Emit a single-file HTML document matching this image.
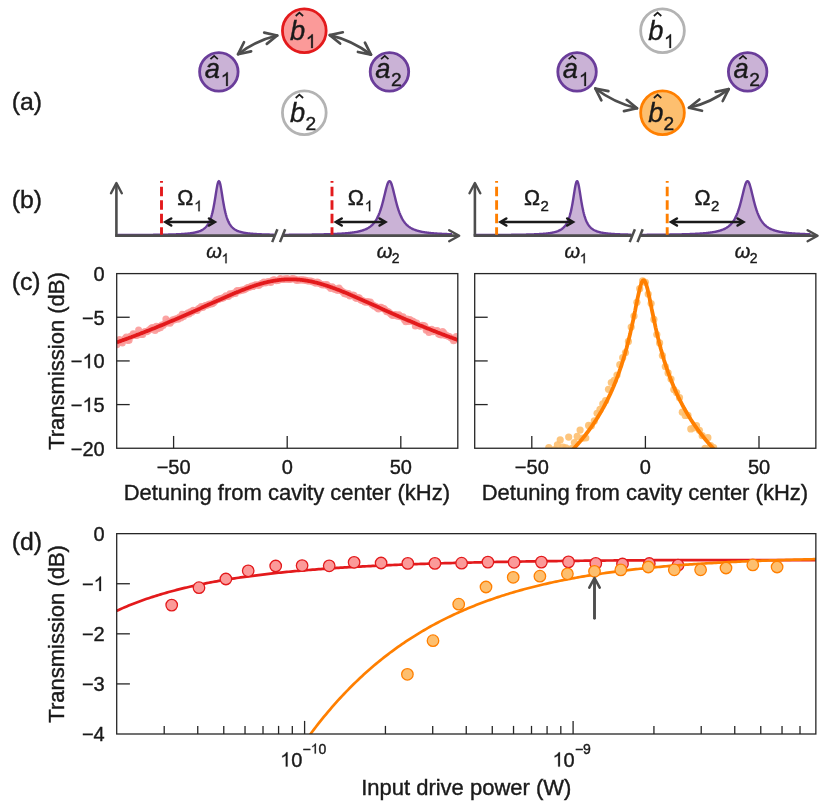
<!DOCTYPE html>
<html><head><meta charset="utf-8"><title>Figure</title>
<style>html,body{margin:0;padding:0;background:#fff;}body{width:831px;height:811px;overflow:hidden;font-family:"Liberation Sans",sans-serif;}svg{display:block;will-change:transform;}</style>
</head><body>
<svg width="831" height="811" viewBox="0 0 831 811" font-family="Liberation Sans, sans-serif">
<text x="11.70" y="110.40" font-size="24.8" fill="#1a1a1a" stroke="#1a1a1a" stroke-width="0.4">(a)</text>
<text x="11.70" y="208.40" font-size="24.8" fill="#1a1a1a" stroke="#1a1a1a" stroke-width="0.4">(b)</text>
<text x="11.70" y="290.40" font-size="24.8" fill="#1a1a1a" stroke="#1a1a1a" stroke-width="0.4">(c)</text>
<text x="11.70" y="550.40" font-size="24.8" fill="#1a1a1a" stroke="#1a1a1a" stroke-width="0.4">(d)</text>
<circle cx="304.3" cy="30.7" r="21.85" fill="#fb9a99" stroke="#e31a1c" stroke-width="2.8"/>
<text x="290.10" y="39.60" font-size="27.3" font-style="italic" fill="#1a1a1a" stroke="#1a1a1a" stroke-width="0.4">b</text>
<path d="M295.70,16.00 L299.40,12.70 L303.10,16.00" fill="none" stroke="#1a1a1a" stroke-width="1.7" stroke-linejoin="miter"/>
<path d="M312.85,48.00 L311.17,48.00 L311.17,37.25 Q310.56,37.83 309.57,38.41 Q308.58,38.99 307.79,39.28 L307.79,37.65 Q309.21,36.98 310.27,36.04 Q311.33,35.09 311.77,34.20 L312.85,34.20 Z" fill="#1a1a1a" stroke="#1a1a1a" stroke-width="0.24"/>
<circle cx="218.85" cy="71.85" r="19.25" fill="#cab2d6" stroke="#6a3d9a" stroke-width="2.8"/>
<text x="204.65" y="77.55" font-size="27.3" font-style="italic" fill="#1a1a1a" stroke="#1a1a1a" stroke-width="0.4">a</text>
<path d="M210.45,59.15 L214.15,55.85 L217.85,59.15" fill="none" stroke="#1a1a1a" stroke-width="1.7" stroke-linejoin="miter"/>
<path d="M227.80,85.95 L226.12,85.95 L226.12,75.20 Q225.51,75.78 224.52,76.36 Q223.53,76.94 222.74,77.23 L222.74,75.60 Q224.16,74.93 225.22,73.99 Q226.28,73.04 226.72,72.15 L227.80,72.15 Z" fill="#1a1a1a" stroke="#1a1a1a" stroke-width="0.24"/>
<circle cx="389.45" cy="71.85" r="19.25" fill="#cab2d6" stroke="#6a3d9a" stroke-width="2.8"/>
<text x="375.25" y="77.55" font-size="27.3" font-style="italic" fill="#1a1a1a" stroke="#1a1a1a" stroke-width="0.4">a</text>
<path d="M381.05,59.15 L384.75,55.85 L388.45,59.15" fill="none" stroke="#1a1a1a" stroke-width="1.7" stroke-linejoin="miter"/>
<text x="390.95" y="85.95" font-size="19.2" fill="#1a1a1a" stroke="#1a1a1a" stroke-width="0.4">2</text>
<circle cx="304.3" cy="112.7" r="21.85" fill="#fff" stroke="#b3b3b3" stroke-width="2.8"/>
<text x="290.10" y="121.60" font-size="27.3" font-style="italic" fill="#1a1a1a" stroke="#1a1a1a" stroke-width="0.4">b</text>
<path d="M295.70,98.00 L299.40,94.70 L303.10,98.00" fill="none" stroke="#1a1a1a" stroke-width="1.7" stroke-linejoin="miter"/>
<text x="305.40" y="130.00" font-size="19.2" fill="#1a1a1a" stroke="#1a1a1a" stroke-width="0.4">2</text>
<circle cx="662.5" cy="30.7" r="21.85" fill="#fff" stroke="#b3b3b3" stroke-width="2.8"/>
<text x="648.30" y="39.60" font-size="27.3" font-style="italic" fill="#1a1a1a" stroke="#1a1a1a" stroke-width="0.4">b</text>
<path d="M653.90,16.00 L657.60,12.70 L661.30,16.00" fill="none" stroke="#1a1a1a" stroke-width="1.7" stroke-linejoin="miter"/>
<path d="M671.05,48.00 L669.37,48.00 L669.37,37.25 Q668.76,37.83 667.77,38.41 Q666.78,38.99 665.99,39.28 L665.99,37.65 Q667.41,36.98 668.47,36.04 Q669.53,35.09 669.97,34.20 L671.05,34.20 Z" fill="#1a1a1a" stroke="#1a1a1a" stroke-width="0.24"/>
<circle cx="577.05" cy="71.85" r="19.25" fill="#cab2d6" stroke="#6a3d9a" stroke-width="2.8"/>
<text x="562.85" y="77.55" font-size="27.3" font-style="italic" fill="#1a1a1a" stroke="#1a1a1a" stroke-width="0.4">a</text>
<path d="M568.65,59.15 L572.35,55.85 L576.05,59.15" fill="none" stroke="#1a1a1a" stroke-width="1.7" stroke-linejoin="miter"/>
<path d="M586.00,85.95 L584.32,85.95 L584.32,75.20 Q583.71,75.78 582.72,76.36 Q581.73,76.94 580.94,77.23 L580.94,75.60 Q582.36,74.93 583.42,73.99 Q584.48,73.04 584.92,72.15 L586.00,72.15 Z" fill="#1a1a1a" stroke="#1a1a1a" stroke-width="0.24"/>
<circle cx="747.65" cy="71.85" r="19.25" fill="#cab2d6" stroke="#6a3d9a" stroke-width="2.8"/>
<text x="733.45" y="77.55" font-size="27.3" font-style="italic" fill="#1a1a1a" stroke="#1a1a1a" stroke-width="0.4">a</text>
<path d="M739.25,59.15 L742.95,55.85 L746.65,59.15" fill="none" stroke="#1a1a1a" stroke-width="1.7" stroke-linejoin="miter"/>
<text x="749.15" y="85.95" font-size="19.2" fill="#1a1a1a" stroke="#1a1a1a" stroke-width="0.4">2</text>
<circle cx="662.5" cy="112.7" r="21.85" fill="#fdbf6f" stroke="#ff7f00" stroke-width="2.8"/>
<text x="648.30" y="121.60" font-size="27.3" font-style="italic" fill="#1a1a1a" stroke="#1a1a1a" stroke-width="0.4">b</text>
<path d="M653.90,98.00 L657.60,94.70 L661.30,98.00" fill="none" stroke="#1a1a1a" stroke-width="1.7" stroke-linejoin="miter"/>
<text x="663.60" y="130.00" font-size="19.2" fill="#1a1a1a" stroke="#1a1a1a" stroke-width="0.4">2</text>
<path d="M238.10,54.20 Q255.58,40.52 277.20,35.50" fill="none" stroke="#4d4d4d" stroke-width="2.7" stroke-linecap="round"/>
<path d="M251.12,51.37 L238.10,54.20 L243.98,42.24" fill="none" stroke="#4d4d4d" stroke-width="2.7" stroke-linecap="round" stroke-linejoin="round"/>
<path d="M264.20,32.56 L277.20,35.50 L266.82,43.86" fill="none" stroke="#4d4d4d" stroke-width="2.7" stroke-linecap="round" stroke-linejoin="round"/>
<path d="M329.80,35.10 Q352.45,40.51 371.00,54.60" fill="none" stroke="#4d4d4d" stroke-width="2.7" stroke-linecap="round"/>
<path d="M340.12,43.53 L329.80,35.10 L342.82,32.25" fill="none" stroke="#4d4d4d" stroke-width="2.7" stroke-linecap="round" stroke-linejoin="round"/>
<path d="M364.95,42.72 L371.00,54.60 L357.94,51.96" fill="none" stroke="#4d4d4d" stroke-width="2.7" stroke-linecap="round" stroke-linejoin="round"/>
<path d="M595.30,88.50 Q614.09,102.74 637.00,108.30" fill="none" stroke="#4d4d4d" stroke-width="2.7" stroke-linecap="round"/>
<path d="M601.36,100.37 L595.30,88.50 L608.37,91.12" fill="none" stroke="#4d4d4d" stroke-width="2.7" stroke-linecap="round" stroke-linejoin="round"/>
<path d="M626.71,99.83 L637.00,108.30 L623.97,111.10" fill="none" stroke="#4d4d4d" stroke-width="2.7" stroke-linecap="round" stroke-linejoin="round"/>
<path d="M689.00,107.80 Q710.90,102.79 728.70,89.10" fill="none" stroke="#4d4d4d" stroke-width="2.7" stroke-linecap="round"/>
<path d="M701.99,110.78 L689.00,107.80 L699.40,99.47" fill="none" stroke="#4d4d4d" stroke-width="2.7" stroke-linecap="round" stroke-linejoin="round"/>
<path d="M715.65,91.82 L728.70,89.10 L722.72,101.01" fill="none" stroke="#4d4d4d" stroke-width="2.7" stroke-linecap="round" stroke-linejoin="round"/>
<path d="M117.4,235.04 L117.9,235.04 L118.4,235.04 L118.9,235.04 L119.4,235.04 L119.9,235.03 L120.4,235.03 L120.9,235.03 L121.4,235.03 L121.9,235.03 L122.4,235.02 L122.9,235.02 L123.4,235.02 L123.9,235.02 L124.4,235.02 L124.9,235.02 L125.4,235.01 L125.9,235.01 L126.4,235.01 L126.9,235.01 L127.4,235.01 L127.9,235.00 L128.4,235.00 L128.9,235.00 L129.4,235.00 L129.9,234.99 L130.4,234.99 L130.9,234.99 L131.4,234.99 L131.9,234.98 L132.4,234.98 L132.9,234.98 L133.4,234.98 L133.9,234.97 L134.4,234.97 L134.9,234.97 L135.4,234.97 L135.9,234.96 L136.4,234.96 L136.9,234.96 L137.4,234.95 L137.9,234.95 L138.4,234.95 L138.9,234.95 L139.4,234.94 L139.9,234.94 L140.4,234.94 L140.9,234.93 L141.4,234.93 L141.9,234.93 L142.4,234.92 L142.9,234.92 L143.4,234.91 L143.9,234.91 L144.4,234.91 L144.9,234.90 L145.4,234.90 L145.9,234.89 L146.4,234.89 L146.9,234.89 L147.4,234.88 L147.9,234.88 L148.4,234.87 L148.9,234.87 L149.4,234.86 L149.9,234.86 L150.4,234.85 L150.9,234.85 L151.4,234.84 L151.9,234.84 L152.4,234.83 L152.9,234.83 L153.4,234.82 L153.9,234.82 L154.4,234.81 L154.9,234.80 L155.4,234.80 L155.9,234.79 L156.4,234.78 L156.9,234.78 L157.4,234.77 L157.9,234.76 L158.4,234.76 L158.9,234.75 L159.4,234.74 L159.9,234.73 L160.4,234.73 L160.9,234.72 L161.4,234.71 L161.9,234.70 L162.4,234.69 L162.9,234.68 L163.4,234.67 L163.9,234.66 L164.4,234.65 L164.9,234.64 L165.4,234.63 L165.9,234.62 L166.4,234.61 L166.9,234.60 L167.4,234.59 L167.9,234.58 L168.4,234.57 L168.9,234.55 L169.4,234.54 L169.9,234.53 L170.4,234.51 L170.9,234.50 L171.4,234.48 L171.9,234.47 L172.4,234.45 L172.9,234.44 L173.4,234.42 L173.9,234.40 L174.4,234.39 L174.9,234.37 L175.4,234.35 L175.9,234.33 L176.4,234.31 L176.9,234.29 L177.4,234.27 L177.9,234.24 L178.4,234.22 L178.9,234.20 L179.4,234.17 L179.9,234.15 L180.4,234.12 L180.9,234.09 L181.4,234.06 L181.9,234.03 L182.4,234.00 L182.9,233.97 L183.4,233.93 L183.9,233.90 L184.4,233.86 L184.9,233.82 L185.4,233.78 L185.9,233.74 L186.4,233.69 L186.9,233.65 L187.4,233.60 L187.9,233.55 L188.4,233.50 L188.9,233.44 L189.4,233.38 L189.9,233.32 L190.4,233.26 L190.9,233.19 L191.4,233.12 L191.9,233.04 L192.4,232.97 L192.9,232.88 L193.4,232.80 L193.9,232.70 L194.4,232.60 L194.9,232.50 L195.4,232.39 L195.9,232.27 L196.4,232.15 L196.9,232.02 L197.4,231.88 L197.9,231.73 L198.4,231.57 L198.9,231.40 L199.4,231.21 L199.9,231.02 L200.4,230.81 L200.9,230.58 L201.4,230.34 L201.9,230.07 L202.4,229.79 L202.9,229.48 L203.4,229.15 L203.9,228.79 L204.4,228.40 L204.9,227.97 L205.4,227.50 L205.9,226.99 L206.4,226.43 L206.9,225.81 L207.4,225.13 L207.9,224.38 L208.4,223.55 L208.9,222.64 L209.4,221.62 L209.9,220.49 L210.4,219.23 L210.9,217.84 L211.4,216.28 L211.9,214.55 L212.4,212.63 L212.9,210.50 L213.4,208.15 L213.9,205.58 L214.4,202.79 L214.9,199.82 L215.4,196.69 L215.9,193.51 L216.4,190.36 L216.9,187.42 L217.4,184.85 L217.9,182.83 L218.4,181.54 L218.9,181.10 L219.4,181.54 L219.9,182.83 L220.4,184.85 L220.9,187.42 L221.4,190.36 L221.9,193.51 L222.4,196.69 L222.9,199.82 L223.4,202.79 L223.9,205.58 L224.4,208.15 L224.9,210.50 L225.4,212.63 L225.9,214.55 L226.4,216.28 L226.9,217.84 L227.4,219.23 L227.9,220.49 L228.4,221.62 L228.9,222.64 L229.4,223.55 L229.9,224.38 L230.4,225.13 L230.9,225.81 L231.4,226.43 L231.9,226.99 L232.4,227.50 L232.9,227.97 L233.4,228.40 L233.9,228.79 L234.4,229.15 L234.9,229.48 L235.4,229.79 L235.9,230.07 L236.4,230.34 L236.9,230.58 L237.4,230.81 L237.9,231.02 L238.4,231.21 L238.9,231.40 L239.4,231.57 L239.9,231.73 L240.4,231.88 L240.9,232.02 L241.4,232.15 L241.9,232.27 L242.4,232.39 L242.9,232.50 L243.4,232.60 L243.9,232.70 L244.4,232.80 L244.9,232.88 L245.4,232.97 L245.9,233.04 L246.4,233.12 L246.9,233.19 L247.4,233.26 L247.9,233.32 L248.4,233.38 L248.9,233.44 L249.4,233.50 L249.9,233.55 L250.4,233.60 L250.9,233.65 L251.4,233.69 L251.9,233.74 L252.4,233.78 L252.9,233.82 L253.4,233.86 L253.9,233.90 L254.4,233.93 L254.9,233.97 L255.4,234.00 L255.9,234.03 L256.4,234.06 L256.9,234.09 L257.4,234.12 L257.9,234.15 L258.4,234.17 L258.9,234.20 L259.4,234.22 L259.9,234.24 L260.4,234.27 L260.9,234.29 L261.4,234.31 L261.9,234.33 L262.4,234.35 L262.9,234.37 L263.4,234.39 L263.9,234.40 L264.4,234.42 L264.9,234.44 L265.4,234.45 L265.9,234.47 L266.4,234.48 L266.9,234.50 L267.4,234.51 L267.9,234.53 L268.4,234.54 L268.9,234.55 L269.4,234.57 L269.9,234.58 L270.4,234.59 L270.9,234.60 L271.4,234.61 L271.9,234.62 L272.4,234.63 L272.9,234.64 L273.4,234.65 L273.9,234.66 L273.9,235.7 L117.4,235.7 Z" fill="#cab2d6" stroke="none"/>
<path d="M283.5,234.86 L284.0,234.86 L284.5,234.86 L285.0,234.85 L285.5,234.85 L286.0,234.85 L286.5,234.84 L287.0,234.84 L287.5,234.84 L288.0,234.83 L288.5,234.83 L289.0,234.82 L289.5,234.82 L290.0,234.82 L290.5,234.81 L291.0,234.81 L291.5,234.81 L292.0,234.80 L292.5,234.80 L293.0,234.79 L293.5,234.79 L294.0,234.78 L294.5,234.78 L295.0,234.78 L295.5,234.77 L296.0,234.77 L296.5,234.76 L297.0,234.76 L297.5,234.75 L298.0,234.75 L298.5,234.74 L299.0,234.74 L299.5,234.73 L300.0,234.73 L300.5,234.72 L301.0,234.72 L301.5,234.71 L302.0,234.71 L302.5,234.70 L303.0,234.69 L303.5,234.69 L304.0,234.68 L304.5,234.68 L305.0,234.67 L305.5,234.66 L306.0,234.66 L306.5,234.65 L307.0,234.64 L307.5,234.64 L308.0,234.63 L308.5,234.62 L309.0,234.62 L309.5,234.61 L310.0,234.60 L310.5,234.60 L311.0,234.59 L311.5,234.58 L312.0,234.57 L312.5,234.56 L313.0,234.56 L313.5,234.55 L314.0,234.54 L314.5,234.53 L315.0,234.52 L315.5,234.51 L316.0,234.50 L316.5,234.49 L317.0,234.48 L317.5,234.47 L318.0,234.46 L318.5,234.45 L319.0,234.44 L319.5,234.43 L320.0,234.42 L320.5,234.41 L321.0,234.40 L321.5,234.39 L322.0,234.37 L322.5,234.36 L323.0,234.35 L323.5,234.34 L324.0,234.32 L324.5,234.31 L325.0,234.30 L325.5,234.28 L326.0,234.27 L326.5,234.26 L327.0,234.24 L327.5,234.22 L328.0,234.21 L328.5,234.19 L329.0,234.18 L329.5,234.16 L330.0,234.14 L330.5,234.13 L331.0,234.11 L331.5,234.09 L332.0,234.07 L332.5,234.05 L333.0,234.03 L333.5,234.01 L334.0,233.99 L334.5,233.97 L335.0,233.94 L335.5,233.92 L336.0,233.90 L336.5,233.87 L337.0,233.85 L337.5,233.82 L338.0,233.80 L338.5,233.77 L339.0,233.74 L339.5,233.71 L340.0,233.69 L340.5,233.66 L341.0,233.62 L341.5,233.59 L342.0,233.56 L342.5,233.53 L343.0,233.49 L343.5,233.45 L344.0,233.42 L344.5,233.38 L345.0,233.34 L345.5,233.30 L346.0,233.26 L346.5,233.21 L347.0,233.17 L347.5,233.12 L348.0,233.07 L348.5,233.02 L349.0,232.97 L349.5,232.91 L350.0,232.86 L350.5,232.80 L351.0,232.74 L351.5,232.68 L352.0,232.62 L352.5,232.55 L353.0,232.48 L353.5,232.41 L354.0,232.33 L354.5,232.25 L355.0,232.17 L355.5,232.09 L356.0,232.00 L356.5,231.91 L357.0,231.81 L357.5,231.71 L358.0,231.61 L358.5,231.50 L359.0,231.39 L359.5,231.27 L360.0,231.14 L360.5,231.01 L361.0,230.88 L361.5,230.73 L362.0,230.58 L362.5,230.43 L363.0,230.26 L363.5,230.09 L364.0,229.90 L364.5,229.71 L365.0,229.51 L365.5,229.30 L366.0,229.07 L366.5,228.83 L367.0,228.58 L367.5,228.32 L368.0,228.04 L368.5,227.74 L369.0,227.42 L369.5,227.09 L370.0,226.73 L370.5,226.35 L371.0,225.95 L371.5,225.53 L372.0,225.07 L372.5,224.58 L373.0,224.06 L373.5,223.51 L374.0,222.92 L374.5,222.28 L375.0,221.61 L375.5,220.88 L376.0,220.10 L376.5,219.27 L377.0,218.37 L377.5,217.41 L378.0,216.38 L378.5,215.27 L379.0,214.09 L379.5,212.82 L380.0,211.46 L380.5,210.01 L381.0,208.47 L381.5,206.83 L382.0,205.10 L382.5,203.27 L383.0,201.36 L383.5,199.38 L384.0,197.33 L384.5,195.25 L385.0,193.16 L385.5,191.10 L386.0,189.10 L386.5,187.22 L387.0,185.50 L387.5,184.00 L388.0,182.77 L388.5,181.86 L389.0,181.29 L389.5,181.10 L390.0,181.29 L390.5,181.86 L391.0,182.77 L391.5,184.00 L392.0,185.50 L392.5,187.22 L393.0,189.10 L393.5,191.10 L394.0,193.16 L394.5,195.25 L395.0,197.33 L395.5,199.38 L396.0,201.36 L396.5,203.27 L397.0,205.10 L397.5,206.83 L398.0,208.47 L398.5,210.01 L399.0,211.46 L399.5,212.82 L400.0,214.09 L400.5,215.27 L401.0,216.38 L401.5,217.41 L402.0,218.37 L402.5,219.27 L403.0,220.10 L403.5,220.88 L404.0,221.61 L404.5,222.28 L405.0,222.92 L405.5,223.51 L406.0,224.06 L406.5,224.58 L407.0,225.07 L407.5,225.53 L408.0,225.95 L408.5,226.35 L409.0,226.73 L409.5,227.09 L410.0,227.42 L410.5,227.74 L411.0,228.04 L411.5,228.32 L412.0,228.58 L412.5,228.83 L413.0,229.07 L413.5,229.30 L414.0,229.51 L414.5,229.71 L415.0,229.90 L415.5,230.09 L416.0,230.26 L416.5,230.43 L417.0,230.58 L417.5,230.73 L418.0,230.88 L418.5,231.01 L419.0,231.14 L419.5,231.27 L420.0,231.39 L420.5,231.50 L421.0,231.61 L421.5,231.71 L422.0,231.81 L422.5,231.91 L423.0,232.00 L423.5,232.09 L424.0,232.17 L424.5,232.25 L425.0,232.33 L425.5,232.41 L426.0,232.48 L426.5,232.55 L427.0,232.62 L427.5,232.68 L428.0,232.74 L428.5,232.80 L429.0,232.86 L429.5,232.91 L430.0,232.97 L430.5,233.02 L431.0,233.07 L431.5,233.12 L432.0,233.17 L432.5,233.21 L433.0,233.26 L433.5,233.30 L434.0,233.34 L434.5,233.38 L435.0,233.42 L435.5,233.45 L436.0,233.49 L436.5,233.53 L437.0,233.56 L437.5,233.59 L438.0,233.62 L438.5,233.66 L439.0,233.69 L439.5,233.71 L440.0,233.74 L440.5,233.77 L441.0,233.80 L441.5,233.82 L442.0,233.85 L442.5,233.87 L443.0,233.90 L443.5,233.92 L444.0,233.94 L444.5,233.97 L445.0,233.99 L445.5,234.01 L446.0,234.03 L446.5,234.05 L447.0,234.07 L447.5,234.09 L448.0,234.11 L448.5,234.13 L449.0,234.14 L449.5,234.16 L450.0,234.18 L450.5,234.19 L451.0,234.21 L451.5,234.22 L452.0,234.24 L452.0,235.7 L283.5,235.7 Z" fill="#cab2d6" stroke="none"/>
<path d="M117.4,235.04 L117.9,235.04 L118.4,235.04 L118.9,235.04 L119.4,235.04 L119.9,235.03 L120.4,235.03 L120.9,235.03 L121.4,235.03 L121.9,235.03 L122.4,235.02 L122.9,235.02 L123.4,235.02 L123.9,235.02 L124.4,235.02 L124.9,235.02 L125.4,235.01 L125.9,235.01 L126.4,235.01 L126.9,235.01 L127.4,235.01 L127.9,235.00 L128.4,235.00 L128.9,235.00 L129.4,235.00 L129.9,234.99 L130.4,234.99 L130.9,234.99 L131.4,234.99 L131.9,234.98 L132.4,234.98 L132.9,234.98 L133.4,234.98 L133.9,234.97 L134.4,234.97 L134.9,234.97 L135.4,234.97 L135.9,234.96 L136.4,234.96 L136.9,234.96 L137.4,234.95 L137.9,234.95 L138.4,234.95 L138.9,234.95 L139.4,234.94 L139.9,234.94 L140.4,234.94 L140.9,234.93 L141.4,234.93 L141.9,234.93 L142.4,234.92 L142.9,234.92 L143.4,234.91 L143.9,234.91 L144.4,234.91 L144.9,234.90 L145.4,234.90 L145.9,234.89 L146.4,234.89 L146.9,234.89 L147.4,234.88 L147.9,234.88 L148.4,234.87 L148.9,234.87 L149.4,234.86 L149.9,234.86 L150.4,234.85 L150.9,234.85 L151.4,234.84 L151.9,234.84 L152.4,234.83 L152.9,234.83 L153.4,234.82 L153.9,234.82 L154.4,234.81 L154.9,234.80 L155.4,234.80 L155.9,234.79 L156.4,234.78 L156.9,234.78 L157.4,234.77 L157.9,234.76 L158.4,234.76 L158.9,234.75 L159.4,234.74 L159.9,234.73 L160.4,234.73 L160.9,234.72 L161.4,234.71 L161.9,234.70 L162.4,234.69 L162.9,234.68 L163.4,234.67 L163.9,234.66 L164.4,234.65 L164.9,234.64 L165.4,234.63 L165.9,234.62 L166.4,234.61 L166.9,234.60 L167.4,234.59 L167.9,234.58 L168.4,234.57 L168.9,234.55 L169.4,234.54 L169.9,234.53 L170.4,234.51 L170.9,234.50 L171.4,234.48 L171.9,234.47 L172.4,234.45 L172.9,234.44 L173.4,234.42 L173.9,234.40 L174.4,234.39 L174.9,234.37 L175.4,234.35 L175.9,234.33 L176.4,234.31 L176.9,234.29 L177.4,234.27 L177.9,234.24 L178.4,234.22 L178.9,234.20 L179.4,234.17 L179.9,234.15 L180.4,234.12 L180.9,234.09 L181.4,234.06 L181.9,234.03 L182.4,234.00 L182.9,233.97 L183.4,233.93 L183.9,233.90 L184.4,233.86 L184.9,233.82 L185.4,233.78 L185.9,233.74 L186.4,233.69 L186.9,233.65 L187.4,233.60 L187.9,233.55 L188.4,233.50 L188.9,233.44 L189.4,233.38 L189.9,233.32 L190.4,233.26 L190.9,233.19 L191.4,233.12 L191.9,233.04 L192.4,232.97 L192.9,232.88 L193.4,232.80 L193.9,232.70 L194.4,232.60 L194.9,232.50 L195.4,232.39 L195.9,232.27 L196.4,232.15 L196.9,232.02 L197.4,231.88 L197.9,231.73 L198.4,231.57 L198.9,231.40 L199.4,231.21 L199.9,231.02 L200.4,230.81 L200.9,230.58 L201.4,230.34 L201.9,230.07 L202.4,229.79 L202.9,229.48 L203.4,229.15 L203.9,228.79 L204.4,228.40 L204.9,227.97 L205.4,227.50 L205.9,226.99 L206.4,226.43 L206.9,225.81 L207.4,225.13 L207.9,224.38 L208.4,223.55 L208.9,222.64 L209.4,221.62 L209.9,220.49 L210.4,219.23 L210.9,217.84 L211.4,216.28 L211.9,214.55 L212.4,212.63 L212.9,210.50 L213.4,208.15 L213.9,205.58 L214.4,202.79 L214.9,199.82 L215.4,196.69 L215.9,193.51 L216.4,190.36 L216.9,187.42 L217.4,184.85 L217.9,182.83 L218.4,181.54 L218.9,181.10 L219.4,181.54 L219.9,182.83 L220.4,184.85 L220.9,187.42 L221.4,190.36 L221.9,193.51 L222.4,196.69 L222.9,199.82 L223.4,202.79 L223.9,205.58 L224.4,208.15 L224.9,210.50 L225.4,212.63 L225.9,214.55 L226.4,216.28 L226.9,217.84 L227.4,219.23 L227.9,220.49 L228.4,221.62 L228.9,222.64 L229.4,223.55 L229.9,224.38 L230.4,225.13 L230.9,225.81 L231.4,226.43 L231.9,226.99 L232.4,227.50 L232.9,227.97 L233.4,228.40 L233.9,228.79 L234.4,229.15 L234.9,229.48 L235.4,229.79 L235.9,230.07 L236.4,230.34 L236.9,230.58 L237.4,230.81 L237.9,231.02 L238.4,231.21 L238.9,231.40 L239.4,231.57 L239.9,231.73 L240.4,231.88 L240.9,232.02 L241.4,232.15 L241.9,232.27 L242.4,232.39 L242.9,232.50 L243.4,232.60 L243.9,232.70 L244.4,232.80 L244.9,232.88 L245.4,232.97 L245.9,233.04 L246.4,233.12 L246.9,233.19 L247.4,233.26 L247.9,233.32 L248.4,233.38 L248.9,233.44 L249.4,233.50 L249.9,233.55 L250.4,233.60 L250.9,233.65 L251.4,233.69 L251.9,233.74 L252.4,233.78 L252.9,233.82 L253.4,233.86 L253.9,233.90 L254.4,233.93 L254.9,233.97 L255.4,234.00 L255.9,234.03 L256.4,234.06 L256.9,234.09 L257.4,234.12 L257.9,234.15 L258.4,234.17 L258.9,234.20 L259.4,234.22 L259.9,234.24 L260.4,234.27 L260.9,234.29 L261.4,234.31 L261.9,234.33 L262.4,234.35 L262.9,234.37 L263.4,234.39 L263.9,234.40 L264.4,234.42 L264.9,234.44 L265.4,234.45 L265.9,234.47 L266.4,234.48 L266.9,234.50 L267.4,234.51 L267.9,234.53 L268.4,234.54 L268.9,234.55 L269.4,234.57 L269.9,234.58 L270.4,234.59 L270.9,234.60 L271.4,234.61 L271.9,234.62 L272.4,234.63 L272.9,234.64 L273.4,234.65 L273.9,234.66" fill="none" stroke="#6a3d9a" stroke-width="2.4" stroke-linejoin="round"/>
<path d="M283.5,234.86 L284.0,234.86 L284.5,234.86 L285.0,234.85 L285.5,234.85 L286.0,234.85 L286.5,234.84 L287.0,234.84 L287.5,234.84 L288.0,234.83 L288.5,234.83 L289.0,234.82 L289.5,234.82 L290.0,234.82 L290.5,234.81 L291.0,234.81 L291.5,234.81 L292.0,234.80 L292.5,234.80 L293.0,234.79 L293.5,234.79 L294.0,234.78 L294.5,234.78 L295.0,234.78 L295.5,234.77 L296.0,234.77 L296.5,234.76 L297.0,234.76 L297.5,234.75 L298.0,234.75 L298.5,234.74 L299.0,234.74 L299.5,234.73 L300.0,234.73 L300.5,234.72 L301.0,234.72 L301.5,234.71 L302.0,234.71 L302.5,234.70 L303.0,234.69 L303.5,234.69 L304.0,234.68 L304.5,234.68 L305.0,234.67 L305.5,234.66 L306.0,234.66 L306.5,234.65 L307.0,234.64 L307.5,234.64 L308.0,234.63 L308.5,234.62 L309.0,234.62 L309.5,234.61 L310.0,234.60 L310.5,234.60 L311.0,234.59 L311.5,234.58 L312.0,234.57 L312.5,234.56 L313.0,234.56 L313.5,234.55 L314.0,234.54 L314.5,234.53 L315.0,234.52 L315.5,234.51 L316.0,234.50 L316.5,234.49 L317.0,234.48 L317.5,234.47 L318.0,234.46 L318.5,234.45 L319.0,234.44 L319.5,234.43 L320.0,234.42 L320.5,234.41 L321.0,234.40 L321.5,234.39 L322.0,234.37 L322.5,234.36 L323.0,234.35 L323.5,234.34 L324.0,234.32 L324.5,234.31 L325.0,234.30 L325.5,234.28 L326.0,234.27 L326.5,234.26 L327.0,234.24 L327.5,234.22 L328.0,234.21 L328.5,234.19 L329.0,234.18 L329.5,234.16 L330.0,234.14 L330.5,234.13 L331.0,234.11 L331.5,234.09 L332.0,234.07 L332.5,234.05 L333.0,234.03 L333.5,234.01 L334.0,233.99 L334.5,233.97 L335.0,233.94 L335.5,233.92 L336.0,233.90 L336.5,233.87 L337.0,233.85 L337.5,233.82 L338.0,233.80 L338.5,233.77 L339.0,233.74 L339.5,233.71 L340.0,233.69 L340.5,233.66 L341.0,233.62 L341.5,233.59 L342.0,233.56 L342.5,233.53 L343.0,233.49 L343.5,233.45 L344.0,233.42 L344.5,233.38 L345.0,233.34 L345.5,233.30 L346.0,233.26 L346.5,233.21 L347.0,233.17 L347.5,233.12 L348.0,233.07 L348.5,233.02 L349.0,232.97 L349.5,232.91 L350.0,232.86 L350.5,232.80 L351.0,232.74 L351.5,232.68 L352.0,232.62 L352.5,232.55 L353.0,232.48 L353.5,232.41 L354.0,232.33 L354.5,232.25 L355.0,232.17 L355.5,232.09 L356.0,232.00 L356.5,231.91 L357.0,231.81 L357.5,231.71 L358.0,231.61 L358.5,231.50 L359.0,231.39 L359.5,231.27 L360.0,231.14 L360.5,231.01 L361.0,230.88 L361.5,230.73 L362.0,230.58 L362.5,230.43 L363.0,230.26 L363.5,230.09 L364.0,229.90 L364.5,229.71 L365.0,229.51 L365.5,229.30 L366.0,229.07 L366.5,228.83 L367.0,228.58 L367.5,228.32 L368.0,228.04 L368.5,227.74 L369.0,227.42 L369.5,227.09 L370.0,226.73 L370.5,226.35 L371.0,225.95 L371.5,225.53 L372.0,225.07 L372.5,224.58 L373.0,224.06 L373.5,223.51 L374.0,222.92 L374.5,222.28 L375.0,221.61 L375.5,220.88 L376.0,220.10 L376.5,219.27 L377.0,218.37 L377.5,217.41 L378.0,216.38 L378.5,215.27 L379.0,214.09 L379.5,212.82 L380.0,211.46 L380.5,210.01 L381.0,208.47 L381.5,206.83 L382.0,205.10 L382.5,203.27 L383.0,201.36 L383.5,199.38 L384.0,197.33 L384.5,195.25 L385.0,193.16 L385.5,191.10 L386.0,189.10 L386.5,187.22 L387.0,185.50 L387.5,184.00 L388.0,182.77 L388.5,181.86 L389.0,181.29 L389.5,181.10 L390.0,181.29 L390.5,181.86 L391.0,182.77 L391.5,184.00 L392.0,185.50 L392.5,187.22 L393.0,189.10 L393.5,191.10 L394.0,193.16 L394.5,195.25 L395.0,197.33 L395.5,199.38 L396.0,201.36 L396.5,203.27 L397.0,205.10 L397.5,206.83 L398.0,208.47 L398.5,210.01 L399.0,211.46 L399.5,212.82 L400.0,214.09 L400.5,215.27 L401.0,216.38 L401.5,217.41 L402.0,218.37 L402.5,219.27 L403.0,220.10 L403.5,220.88 L404.0,221.61 L404.5,222.28 L405.0,222.92 L405.5,223.51 L406.0,224.06 L406.5,224.58 L407.0,225.07 L407.5,225.53 L408.0,225.95 L408.5,226.35 L409.0,226.73 L409.5,227.09 L410.0,227.42 L410.5,227.74 L411.0,228.04 L411.5,228.32 L412.0,228.58 L412.5,228.83 L413.0,229.07 L413.5,229.30 L414.0,229.51 L414.5,229.71 L415.0,229.90 L415.5,230.09 L416.0,230.26 L416.5,230.43 L417.0,230.58 L417.5,230.73 L418.0,230.88 L418.5,231.01 L419.0,231.14 L419.5,231.27 L420.0,231.39 L420.5,231.50 L421.0,231.61 L421.5,231.71 L422.0,231.81 L422.5,231.91 L423.0,232.00 L423.5,232.09 L424.0,232.17 L424.5,232.25 L425.0,232.33 L425.5,232.41 L426.0,232.48 L426.5,232.55 L427.0,232.62 L427.5,232.68 L428.0,232.74 L428.5,232.80 L429.0,232.86 L429.5,232.91 L430.0,232.97 L430.5,233.02 L431.0,233.07 L431.5,233.12 L432.0,233.17 L432.5,233.21 L433.0,233.26 L433.5,233.30 L434.0,233.34 L434.5,233.38 L435.0,233.42 L435.5,233.45 L436.0,233.49 L436.5,233.53 L437.0,233.56 L437.5,233.59 L438.0,233.62 L438.5,233.66 L439.0,233.69 L439.5,233.71 L440.0,233.74 L440.5,233.77 L441.0,233.80 L441.5,233.82 L442.0,233.85 L442.5,233.87 L443.0,233.90 L443.5,233.92 L444.0,233.94 L444.5,233.97 L445.0,233.99 L445.5,234.01 L446.0,234.03 L446.5,234.05 L447.0,234.07 L447.5,234.09 L448.0,234.11 L448.5,234.13 L449.0,234.14 L449.5,234.16 L450.0,234.18 L450.5,234.19 L451.0,234.21 L451.5,234.22 L452.0,234.24" fill="none" stroke="#6a3d9a" stroke-width="2.4" stroke-linejoin="round"/>
<path d="M115.10000000000001,235.7 L275.0,235.7 M282.9,235.7 L457.7,235.7" stroke="#4d4d4d" stroke-width="2.7" fill="none"/>
<path d="M116.4,235.7 L116.4,183.8" stroke="#4d4d4d" stroke-width="2.6" fill="none"/>
<path d="M111.0,193.2 L116.4,183 L121.80000000000001,193.2" stroke="#4d4d4d" stroke-width="2.4" fill="none" stroke-linecap="round" stroke-linejoin="round"/>
<path d="M449.2,230.2 L459.2,235.7 L449.2,241.2" stroke="#4d4d4d" stroke-width="2.4" fill="none" stroke-linecap="round" stroke-linejoin="round"/>
<path d="M272.20,242.1 L277.40,229.2" stroke="#4d4d4d" stroke-width="2.5" fill="none"/>
<path d="M280.00,242.1 L285.20,229.2" stroke="#4d4d4d" stroke-width="2.5" fill="none"/>
<path d="M161.5,181.1 L161.5,234.79999999999998" stroke="#e31a1c" stroke-width="2.9" stroke-dasharray="9.5 4" stroke-dashoffset="7.8" fill="none"/>
<path d="M166.4,222.0 L213.8,222.0" stroke="#1a1a1a" stroke-width="2.4" fill="none"/>
<path d="M171.20000000000002,218.5 L165.4,222.0 L171.20000000000002,225.5" stroke="#1a1a1a" stroke-width="2.6" fill="none" stroke-linecap="round" stroke-linejoin="miter"/>
<path d="M209.0,218.5 L214.8,222.0 L209.0,225.5" stroke="#1a1a1a" stroke-width="2.6" fill="none" stroke-linecap="round" stroke-linejoin="miter"/>
<text x="177.30" y="204.55" font-size="21.5" fill="#1a1a1a" stroke="#1a1a1a" stroke-width="0.4">&#937;</text>
<path d="M199.69,211.25 L198.37,211.25 L198.37,202.85 Q197.89,203.30 197.12,203.76 Q196.35,204.21 195.73,204.44 L195.73,203.16 Q196.84,202.64 197.67,201.91 Q198.50,201.16 198.84,200.47 L199.69,200.47 Z" fill="#1a1a1a" stroke="#1a1a1a" stroke-width="0.24"/>
<text x="206.25" y="257.50" font-size="20" font-style="italic" fill="#1a1a1a" stroke="#1a1a1a" stroke-width="0.4">&#969;</text>
<path d="M226.62,263.25 L225.39,263.25 L225.39,255.41 Q224.94,255.83 224.22,256.26 Q223.50,256.68 222.92,256.89 L222.92,255.70 Q223.96,255.22 224.73,254.53 Q225.50,253.84 225.82,253.19 L226.62,253.19 Z" fill="#1a1a1a" stroke="#1a1a1a" stroke-width="0.24"/>
<path d="M332,181.1 L332,234.79999999999998" stroke="#e31a1c" stroke-width="2.9" stroke-dasharray="9.5 4" stroke-dashoffset="7.8" fill="none"/>
<path d="M336.9,222.0 L384.4,222.0" stroke="#1a1a1a" stroke-width="2.4" fill="none"/>
<path d="M341.7,218.5 L335.9,222.0 L341.7,225.5" stroke="#1a1a1a" stroke-width="2.6" fill="none" stroke-linecap="round" stroke-linejoin="miter"/>
<path d="M379.59999999999997,218.5 L385.4,222.0 L379.59999999999997,225.5" stroke="#1a1a1a" stroke-width="2.6" fill="none" stroke-linecap="round" stroke-linejoin="miter"/>
<text x="347.85" y="204.55" font-size="21.5" fill="#1a1a1a" stroke="#1a1a1a" stroke-width="0.4">&#937;</text>
<path d="M370.24,211.25 L368.92,211.25 L368.92,202.85 Q368.44,203.30 367.67,203.76 Q366.90,204.21 366.28,204.44 L366.28,203.16 Q367.39,202.64 368.22,201.91 Q369.04,201.16 369.39,200.47 L370.24,200.47 Z" fill="#1a1a1a" stroke="#1a1a1a" stroke-width="0.24"/>
<text x="376.85" y="257.50" font-size="20" font-style="italic" fill="#1a1a1a" stroke="#1a1a1a" stroke-width="0.4">&#969;</text>
<text x="391.70" y="263.25" font-size="14" fill="#1a1a1a" stroke="#1a1a1a" stroke-width="0.4">2</text>
<path d="M475.9,235.04 L476.4,235.04 L476.9,235.04 L477.4,235.04 L477.9,235.03 L478.4,235.03 L478.9,235.03 L479.4,235.03 L479.9,235.03 L480.4,235.03 L480.9,235.02 L481.4,235.02 L481.9,235.02 L482.4,235.02 L482.9,235.02 L483.4,235.01 L483.9,235.01 L484.4,235.01 L484.9,235.01 L485.4,235.01 L485.9,235.00 L486.4,235.00 L486.9,235.00 L487.4,235.00 L487.9,235.00 L488.4,234.99 L488.9,234.99 L489.4,234.99 L489.9,234.99 L490.4,234.98 L490.9,234.98 L491.4,234.98 L491.9,234.98 L492.4,234.97 L492.9,234.97 L493.4,234.97 L493.9,234.96 L494.4,234.96 L494.9,234.96 L495.4,234.96 L495.9,234.95 L496.4,234.95 L496.9,234.95 L497.4,234.94 L497.9,234.94 L498.4,234.94 L498.9,234.93 L499.4,234.93 L499.9,234.93 L500.4,234.92 L500.9,234.92 L501.4,234.92 L501.9,234.91 L502.4,234.91 L502.9,234.90 L503.4,234.90 L503.9,234.90 L504.4,234.89 L504.9,234.89 L505.4,234.88 L505.9,234.88 L506.4,234.87 L506.9,234.87 L507.4,234.87 L507.9,234.86 L508.4,234.86 L508.9,234.85 L509.4,234.85 L509.9,234.84 L510.4,234.83 L510.9,234.83 L511.4,234.82 L511.9,234.82 L512.4,234.81 L512.9,234.81 L513.4,234.80 L513.9,234.79 L514.4,234.79 L514.9,234.78 L515.4,234.77 L515.9,234.77 L516.4,234.76 L516.9,234.75 L517.4,234.74 L517.9,234.74 L518.4,234.73 L518.9,234.72 L519.4,234.71 L519.9,234.70 L520.4,234.70 L520.9,234.69 L521.4,234.68 L521.9,234.67 L522.4,234.66 L522.9,234.65 L523.4,234.64 L523.9,234.63 L524.4,234.62 L524.9,234.61 L525.4,234.59 L525.9,234.58 L526.4,234.57 L526.9,234.56 L527.4,234.55 L527.9,234.53 L528.4,234.52 L528.9,234.50 L529.4,234.49 L529.9,234.48 L530.4,234.46 L530.9,234.44 L531.4,234.43 L531.9,234.41 L532.4,234.39 L532.9,234.38 L533.4,234.36 L533.9,234.34 L534.4,234.32 L534.9,234.30 L535.4,234.27 L535.9,234.25 L536.4,234.23 L536.9,234.21 L537.4,234.18 L537.9,234.16 L538.4,234.13 L538.9,234.10 L539.4,234.07 L539.9,234.04 L540.4,234.01 L540.9,233.98 L541.4,233.95 L541.9,233.91 L542.4,233.87 L542.9,233.84 L543.4,233.80 L543.9,233.75 L544.4,233.71 L544.9,233.67 L545.4,233.62 L545.9,233.57 L546.4,233.52 L546.9,233.46 L547.4,233.41 L547.9,233.35 L548.4,233.28 L548.9,233.22 L549.4,233.15 L549.9,233.07 L550.4,233.00 L550.9,232.92 L551.4,232.83 L551.9,232.74 L552.4,232.64 L552.9,232.54 L553.4,232.44 L553.9,232.32 L554.4,232.20 L554.9,232.07 L555.4,231.93 L555.9,231.79 L556.4,231.63 L556.9,231.47 L557.4,231.29 L557.9,231.10 L558.4,230.89 L558.9,230.67 L559.4,230.44 L559.9,230.18 L560.4,229.91 L560.9,229.61 L561.4,229.29 L561.9,228.94 L562.4,228.56 L562.9,228.14 L563.4,227.69 L563.9,227.20 L564.4,226.66 L564.9,226.06 L565.4,225.41 L565.9,224.69 L566.4,223.89 L566.9,223.01 L567.4,222.04 L567.9,220.96 L568.4,219.75 L568.9,218.41 L569.4,216.92 L569.9,215.26 L570.4,213.42 L570.9,211.38 L571.4,209.12 L571.9,206.63 L572.4,203.93 L572.9,201.03 L573.4,197.96 L573.9,194.78 L574.4,191.61 L574.9,188.56 L575.4,185.82 L575.9,183.56 L576.4,181.96 L576.9,181.17 L577.4,181.26 L577.9,182.22 L578.4,183.96 L578.9,186.33 L579.4,189.15 L579.9,192.24 L580.4,195.42 L580.9,198.58 L581.4,201.62 L581.9,204.49 L582.4,207.15 L582.9,209.59 L583.4,211.80 L583.9,213.80 L584.4,215.61 L584.9,217.23 L585.4,218.69 L585.9,220.00 L586.4,221.18 L586.9,222.24 L587.4,223.20 L587.9,224.06 L588.4,224.84 L588.9,225.54 L589.4,226.19 L589.9,226.77 L590.4,227.30 L590.9,227.78 L591.4,228.23 L591.9,228.64 L592.4,229.01 L592.9,229.35 L593.4,229.67 L593.9,229.96 L594.4,230.23 L594.9,230.49 L595.4,230.72 L595.9,230.93 L596.4,231.14 L596.9,231.32 L597.4,231.50 L597.9,231.66 L598.4,231.82 L598.9,231.96 L599.4,232.10 L599.9,232.22 L600.4,232.34 L600.9,232.46 L601.4,232.56 L601.9,232.66 L602.4,232.76 L602.9,232.85 L603.4,232.93 L603.9,233.01 L604.4,233.09 L604.9,233.16 L605.4,233.23 L605.9,233.30 L606.4,233.36 L606.9,233.42 L607.4,233.47 L607.9,233.53 L608.4,233.58 L608.9,233.63 L609.4,233.68 L609.9,233.72 L610.4,233.76 L610.9,233.80 L611.4,233.84 L611.9,233.88 L612.4,233.92 L612.9,233.95 L613.4,233.99 L613.9,234.02 L614.4,234.05 L614.9,234.08 L615.4,234.11 L615.9,234.13 L616.4,234.16 L616.9,234.19 L617.4,234.21 L617.9,234.23 L618.4,234.26 L618.9,234.28 L619.4,234.30 L619.9,234.32 L620.4,234.34 L620.9,234.36 L621.4,234.38 L621.9,234.40 L622.4,234.41 L622.9,234.43 L623.4,234.45 L623.9,234.46 L624.4,234.48 L624.9,234.49 L625.4,234.51 L625.9,234.52 L626.4,234.53 L626.9,234.55 L627.4,234.56 L627.9,234.57 L628.4,234.59 L628.9,234.60 L629.4,234.61 L629.9,234.62 L630.4,234.63 L630.9,234.64 L631.4,234.65 L631.4,235.7 L475.9,235.7 Z" fill="#cab2d6" stroke="none"/>
<path d="M641.0,234.87 L641.5,234.86 L642.0,234.86 L642.5,234.86 L643.0,234.85 L643.5,234.85 L644.0,234.85 L644.5,234.84 L645.0,234.84 L645.5,234.84 L646.0,234.83 L646.5,234.83 L647.0,234.82 L647.5,234.82 L648.0,234.82 L648.5,234.81 L649.0,234.81 L649.5,234.81 L650.0,234.80 L650.5,234.80 L651.0,234.79 L651.5,234.79 L652.0,234.78 L652.5,234.78 L653.0,234.78 L653.5,234.77 L654.0,234.77 L654.5,234.76 L655.0,234.76 L655.5,234.75 L656.0,234.75 L656.5,234.74 L657.0,234.74 L657.5,234.73 L658.0,234.73 L658.5,234.72 L659.0,234.72 L659.5,234.71 L660.0,234.71 L660.5,234.70 L661.0,234.69 L661.5,234.69 L662.0,234.68 L662.5,234.68 L663.0,234.67 L663.5,234.66 L664.0,234.66 L664.5,234.65 L665.0,234.64 L665.5,234.64 L666.0,234.63 L666.5,234.62 L667.0,234.62 L667.5,234.61 L668.0,234.60 L668.5,234.60 L669.0,234.59 L669.5,234.58 L670.0,234.57 L670.5,234.56 L671.0,234.56 L671.5,234.55 L672.0,234.54 L672.5,234.53 L673.0,234.52 L673.5,234.51 L674.0,234.50 L674.5,234.49 L675.0,234.48 L675.5,234.47 L676.0,234.46 L676.5,234.45 L677.0,234.44 L677.5,234.43 L678.0,234.42 L678.5,234.41 L679.0,234.40 L679.5,234.39 L680.0,234.37 L680.5,234.36 L681.0,234.35 L681.5,234.34 L682.0,234.32 L682.5,234.31 L683.0,234.30 L683.5,234.28 L684.0,234.27 L684.5,234.26 L685.0,234.24 L685.5,234.22 L686.0,234.21 L686.5,234.19 L687.0,234.18 L687.5,234.16 L688.0,234.14 L688.5,234.13 L689.0,234.11 L689.5,234.09 L690.0,234.07 L690.5,234.05 L691.0,234.03 L691.5,234.01 L692.0,233.99 L692.5,233.97 L693.0,233.94 L693.5,233.92 L694.0,233.90 L694.5,233.87 L695.0,233.85 L695.5,233.82 L696.0,233.80 L696.5,233.77 L697.0,233.74 L697.5,233.71 L698.0,233.69 L698.5,233.66 L699.0,233.62 L699.5,233.59 L700.0,233.56 L700.5,233.53 L701.0,233.49 L701.5,233.45 L702.0,233.42 L702.5,233.38 L703.0,233.34 L703.5,233.30 L704.0,233.26 L704.5,233.21 L705.0,233.17 L705.5,233.12 L706.0,233.07 L706.5,233.02 L707.0,232.97 L707.5,232.91 L708.0,232.86 L708.5,232.80 L709.0,232.74 L709.5,232.68 L710.0,232.62 L710.5,232.55 L711.0,232.48 L711.5,232.41 L712.0,232.33 L712.5,232.25 L713.0,232.17 L713.5,232.09 L714.0,232.00 L714.5,231.91 L715.0,231.81 L715.5,231.71 L716.0,231.61 L716.5,231.50 L717.0,231.39 L717.5,231.27 L718.0,231.14 L718.5,231.01 L719.0,230.88 L719.5,230.73 L720.0,230.58 L720.5,230.43 L721.0,230.26 L721.5,230.09 L722.0,229.90 L722.5,229.71 L723.0,229.51 L723.5,229.30 L724.0,229.07 L724.5,228.83 L725.0,228.58 L725.5,228.32 L726.0,228.04 L726.5,227.74 L727.0,227.42 L727.5,227.09 L728.0,226.73 L728.5,226.35 L729.0,225.95 L729.5,225.53 L730.0,225.07 L730.5,224.58 L731.0,224.06 L731.5,223.51 L732.0,222.92 L732.5,222.28 L733.0,221.61 L733.5,220.88 L734.0,220.10 L734.5,219.27 L735.0,218.37 L735.5,217.41 L736.0,216.38 L736.5,215.27 L737.0,214.09 L737.5,212.82 L738.0,211.46 L738.5,210.01 L739.0,208.47 L739.5,206.83 L740.0,205.10 L740.5,203.27 L741.0,201.36 L741.5,199.38 L742.0,197.33 L742.5,195.25 L743.0,193.16 L743.5,191.10 L744.0,189.10 L744.5,187.22 L745.0,185.50 L745.5,184.00 L746.0,182.77 L746.5,181.86 L747.0,181.29 L747.5,181.10 L748.0,181.29 L748.5,181.86 L749.0,182.77 L749.5,184.00 L750.0,185.50 L750.5,187.22 L751.0,189.10 L751.5,191.10 L752.0,193.16 L752.5,195.25 L753.0,197.33 L753.5,199.38 L754.0,201.36 L754.5,203.27 L755.0,205.10 L755.5,206.83 L756.0,208.47 L756.5,210.01 L757.0,211.46 L757.5,212.82 L758.0,214.09 L758.5,215.27 L759.0,216.38 L759.5,217.41 L760.0,218.37 L760.5,219.27 L761.0,220.10 L761.5,220.88 L762.0,221.61 L762.5,222.28 L763.0,222.92 L763.5,223.51 L764.0,224.06 L764.5,224.58 L765.0,225.07 L765.5,225.53 L766.0,225.95 L766.5,226.35 L767.0,226.73 L767.5,227.09 L768.0,227.42 L768.5,227.74 L769.0,228.04 L769.5,228.32 L770.0,228.58 L770.5,228.83 L771.0,229.07 L771.5,229.30 L772.0,229.51 L772.5,229.71 L773.0,229.90 L773.5,230.09 L774.0,230.26 L774.5,230.43 L775.0,230.58 L775.5,230.73 L776.0,230.88 L776.5,231.01 L777.0,231.14 L777.5,231.27 L778.0,231.39 L778.5,231.50 L779.0,231.61 L779.5,231.71 L780.0,231.81 L780.5,231.91 L781.0,232.00 L781.5,232.09 L782.0,232.17 L782.5,232.25 L783.0,232.33 L783.5,232.41 L784.0,232.48 L784.5,232.55 L785.0,232.62 L785.5,232.68 L786.0,232.74 L786.5,232.80 L787.0,232.86 L787.5,232.91 L788.0,232.97 L788.5,233.02 L789.0,233.07 L789.5,233.12 L790.0,233.17 L790.5,233.21 L791.0,233.26 L791.5,233.30 L792.0,233.34 L792.5,233.38 L793.0,233.42 L793.5,233.45 L794.0,233.49 L794.5,233.53 L795.0,233.56 L795.5,233.59 L796.0,233.62 L796.5,233.66 L797.0,233.69 L797.5,233.71 L798.0,233.74 L798.5,233.77 L799.0,233.80 L799.5,233.82 L800.0,233.85 L800.5,233.87 L801.0,233.90 L801.5,233.92 L802.0,233.94 L802.5,233.97 L803.0,233.99 L803.5,234.01 L804.0,234.03 L804.5,234.05 L805.0,234.07 L805.5,234.09 L806.0,234.11 L806.5,234.13 L807.0,234.14 L807.5,234.16 L808.0,234.18 L808.5,234.19 L809.0,234.21 L809.5,234.22 L810.0,234.24 L810.5,234.26 L810.5,235.7 L641.0,235.7 Z" fill="#cab2d6" stroke="none"/>
<path d="M475.9,235.04 L476.4,235.04 L476.9,235.04 L477.4,235.04 L477.9,235.03 L478.4,235.03 L478.9,235.03 L479.4,235.03 L479.9,235.03 L480.4,235.03 L480.9,235.02 L481.4,235.02 L481.9,235.02 L482.4,235.02 L482.9,235.02 L483.4,235.01 L483.9,235.01 L484.4,235.01 L484.9,235.01 L485.4,235.01 L485.9,235.00 L486.4,235.00 L486.9,235.00 L487.4,235.00 L487.9,235.00 L488.4,234.99 L488.9,234.99 L489.4,234.99 L489.9,234.99 L490.4,234.98 L490.9,234.98 L491.4,234.98 L491.9,234.98 L492.4,234.97 L492.9,234.97 L493.4,234.97 L493.9,234.96 L494.4,234.96 L494.9,234.96 L495.4,234.96 L495.9,234.95 L496.4,234.95 L496.9,234.95 L497.4,234.94 L497.9,234.94 L498.4,234.94 L498.9,234.93 L499.4,234.93 L499.9,234.93 L500.4,234.92 L500.9,234.92 L501.4,234.92 L501.9,234.91 L502.4,234.91 L502.9,234.90 L503.4,234.90 L503.9,234.90 L504.4,234.89 L504.9,234.89 L505.4,234.88 L505.9,234.88 L506.4,234.87 L506.9,234.87 L507.4,234.87 L507.9,234.86 L508.4,234.86 L508.9,234.85 L509.4,234.85 L509.9,234.84 L510.4,234.83 L510.9,234.83 L511.4,234.82 L511.9,234.82 L512.4,234.81 L512.9,234.81 L513.4,234.80 L513.9,234.79 L514.4,234.79 L514.9,234.78 L515.4,234.77 L515.9,234.77 L516.4,234.76 L516.9,234.75 L517.4,234.74 L517.9,234.74 L518.4,234.73 L518.9,234.72 L519.4,234.71 L519.9,234.70 L520.4,234.70 L520.9,234.69 L521.4,234.68 L521.9,234.67 L522.4,234.66 L522.9,234.65 L523.4,234.64 L523.9,234.63 L524.4,234.62 L524.9,234.61 L525.4,234.59 L525.9,234.58 L526.4,234.57 L526.9,234.56 L527.4,234.55 L527.9,234.53 L528.4,234.52 L528.9,234.50 L529.4,234.49 L529.9,234.48 L530.4,234.46 L530.9,234.44 L531.4,234.43 L531.9,234.41 L532.4,234.39 L532.9,234.38 L533.4,234.36 L533.9,234.34 L534.4,234.32 L534.9,234.30 L535.4,234.27 L535.9,234.25 L536.4,234.23 L536.9,234.21 L537.4,234.18 L537.9,234.16 L538.4,234.13 L538.9,234.10 L539.4,234.07 L539.9,234.04 L540.4,234.01 L540.9,233.98 L541.4,233.95 L541.9,233.91 L542.4,233.87 L542.9,233.84 L543.4,233.80 L543.9,233.75 L544.4,233.71 L544.9,233.67 L545.4,233.62 L545.9,233.57 L546.4,233.52 L546.9,233.46 L547.4,233.41 L547.9,233.35 L548.4,233.28 L548.9,233.22 L549.4,233.15 L549.9,233.07 L550.4,233.00 L550.9,232.92 L551.4,232.83 L551.9,232.74 L552.4,232.64 L552.9,232.54 L553.4,232.44 L553.9,232.32 L554.4,232.20 L554.9,232.07 L555.4,231.93 L555.9,231.79 L556.4,231.63 L556.9,231.47 L557.4,231.29 L557.9,231.10 L558.4,230.89 L558.9,230.67 L559.4,230.44 L559.9,230.18 L560.4,229.91 L560.9,229.61 L561.4,229.29 L561.9,228.94 L562.4,228.56 L562.9,228.14 L563.4,227.69 L563.9,227.20 L564.4,226.66 L564.9,226.06 L565.4,225.41 L565.9,224.69 L566.4,223.89 L566.9,223.01 L567.4,222.04 L567.9,220.96 L568.4,219.75 L568.9,218.41 L569.4,216.92 L569.9,215.26 L570.4,213.42 L570.9,211.38 L571.4,209.12 L571.9,206.63 L572.4,203.93 L572.9,201.03 L573.4,197.96 L573.9,194.78 L574.4,191.61 L574.9,188.56 L575.4,185.82 L575.9,183.56 L576.4,181.96 L576.9,181.17 L577.4,181.26 L577.9,182.22 L578.4,183.96 L578.9,186.33 L579.4,189.15 L579.9,192.24 L580.4,195.42 L580.9,198.58 L581.4,201.62 L581.9,204.49 L582.4,207.15 L582.9,209.59 L583.4,211.80 L583.9,213.80 L584.4,215.61 L584.9,217.23 L585.4,218.69 L585.9,220.00 L586.4,221.18 L586.9,222.24 L587.4,223.20 L587.9,224.06 L588.4,224.84 L588.9,225.54 L589.4,226.19 L589.9,226.77 L590.4,227.30 L590.9,227.78 L591.4,228.23 L591.9,228.64 L592.4,229.01 L592.9,229.35 L593.4,229.67 L593.9,229.96 L594.4,230.23 L594.9,230.49 L595.4,230.72 L595.9,230.93 L596.4,231.14 L596.9,231.32 L597.4,231.50 L597.9,231.66 L598.4,231.82 L598.9,231.96 L599.4,232.10 L599.9,232.22 L600.4,232.34 L600.9,232.46 L601.4,232.56 L601.9,232.66 L602.4,232.76 L602.9,232.85 L603.4,232.93 L603.9,233.01 L604.4,233.09 L604.9,233.16 L605.4,233.23 L605.9,233.30 L606.4,233.36 L606.9,233.42 L607.4,233.47 L607.9,233.53 L608.4,233.58 L608.9,233.63 L609.4,233.68 L609.9,233.72 L610.4,233.76 L610.9,233.80 L611.4,233.84 L611.9,233.88 L612.4,233.92 L612.9,233.95 L613.4,233.99 L613.9,234.02 L614.4,234.05 L614.9,234.08 L615.4,234.11 L615.9,234.13 L616.4,234.16 L616.9,234.19 L617.4,234.21 L617.9,234.23 L618.4,234.26 L618.9,234.28 L619.4,234.30 L619.9,234.32 L620.4,234.34 L620.9,234.36 L621.4,234.38 L621.9,234.40 L622.4,234.41 L622.9,234.43 L623.4,234.45 L623.9,234.46 L624.4,234.48 L624.9,234.49 L625.4,234.51 L625.9,234.52 L626.4,234.53 L626.9,234.55 L627.4,234.56 L627.9,234.57 L628.4,234.59 L628.9,234.60 L629.4,234.61 L629.9,234.62 L630.4,234.63 L630.9,234.64 L631.4,234.65" fill="none" stroke="#6a3d9a" stroke-width="2.4" stroke-linejoin="round"/>
<path d="M641.0,234.87 L641.5,234.86 L642.0,234.86 L642.5,234.86 L643.0,234.85 L643.5,234.85 L644.0,234.85 L644.5,234.84 L645.0,234.84 L645.5,234.84 L646.0,234.83 L646.5,234.83 L647.0,234.82 L647.5,234.82 L648.0,234.82 L648.5,234.81 L649.0,234.81 L649.5,234.81 L650.0,234.80 L650.5,234.80 L651.0,234.79 L651.5,234.79 L652.0,234.78 L652.5,234.78 L653.0,234.78 L653.5,234.77 L654.0,234.77 L654.5,234.76 L655.0,234.76 L655.5,234.75 L656.0,234.75 L656.5,234.74 L657.0,234.74 L657.5,234.73 L658.0,234.73 L658.5,234.72 L659.0,234.72 L659.5,234.71 L660.0,234.71 L660.5,234.70 L661.0,234.69 L661.5,234.69 L662.0,234.68 L662.5,234.68 L663.0,234.67 L663.5,234.66 L664.0,234.66 L664.5,234.65 L665.0,234.64 L665.5,234.64 L666.0,234.63 L666.5,234.62 L667.0,234.62 L667.5,234.61 L668.0,234.60 L668.5,234.60 L669.0,234.59 L669.5,234.58 L670.0,234.57 L670.5,234.56 L671.0,234.56 L671.5,234.55 L672.0,234.54 L672.5,234.53 L673.0,234.52 L673.5,234.51 L674.0,234.50 L674.5,234.49 L675.0,234.48 L675.5,234.47 L676.0,234.46 L676.5,234.45 L677.0,234.44 L677.5,234.43 L678.0,234.42 L678.5,234.41 L679.0,234.40 L679.5,234.39 L680.0,234.37 L680.5,234.36 L681.0,234.35 L681.5,234.34 L682.0,234.32 L682.5,234.31 L683.0,234.30 L683.5,234.28 L684.0,234.27 L684.5,234.26 L685.0,234.24 L685.5,234.22 L686.0,234.21 L686.5,234.19 L687.0,234.18 L687.5,234.16 L688.0,234.14 L688.5,234.13 L689.0,234.11 L689.5,234.09 L690.0,234.07 L690.5,234.05 L691.0,234.03 L691.5,234.01 L692.0,233.99 L692.5,233.97 L693.0,233.94 L693.5,233.92 L694.0,233.90 L694.5,233.87 L695.0,233.85 L695.5,233.82 L696.0,233.80 L696.5,233.77 L697.0,233.74 L697.5,233.71 L698.0,233.69 L698.5,233.66 L699.0,233.62 L699.5,233.59 L700.0,233.56 L700.5,233.53 L701.0,233.49 L701.5,233.45 L702.0,233.42 L702.5,233.38 L703.0,233.34 L703.5,233.30 L704.0,233.26 L704.5,233.21 L705.0,233.17 L705.5,233.12 L706.0,233.07 L706.5,233.02 L707.0,232.97 L707.5,232.91 L708.0,232.86 L708.5,232.80 L709.0,232.74 L709.5,232.68 L710.0,232.62 L710.5,232.55 L711.0,232.48 L711.5,232.41 L712.0,232.33 L712.5,232.25 L713.0,232.17 L713.5,232.09 L714.0,232.00 L714.5,231.91 L715.0,231.81 L715.5,231.71 L716.0,231.61 L716.5,231.50 L717.0,231.39 L717.5,231.27 L718.0,231.14 L718.5,231.01 L719.0,230.88 L719.5,230.73 L720.0,230.58 L720.5,230.43 L721.0,230.26 L721.5,230.09 L722.0,229.90 L722.5,229.71 L723.0,229.51 L723.5,229.30 L724.0,229.07 L724.5,228.83 L725.0,228.58 L725.5,228.32 L726.0,228.04 L726.5,227.74 L727.0,227.42 L727.5,227.09 L728.0,226.73 L728.5,226.35 L729.0,225.95 L729.5,225.53 L730.0,225.07 L730.5,224.58 L731.0,224.06 L731.5,223.51 L732.0,222.92 L732.5,222.28 L733.0,221.61 L733.5,220.88 L734.0,220.10 L734.5,219.27 L735.0,218.37 L735.5,217.41 L736.0,216.38 L736.5,215.27 L737.0,214.09 L737.5,212.82 L738.0,211.46 L738.5,210.01 L739.0,208.47 L739.5,206.83 L740.0,205.10 L740.5,203.27 L741.0,201.36 L741.5,199.38 L742.0,197.33 L742.5,195.25 L743.0,193.16 L743.5,191.10 L744.0,189.10 L744.5,187.22 L745.0,185.50 L745.5,184.00 L746.0,182.77 L746.5,181.86 L747.0,181.29 L747.5,181.10 L748.0,181.29 L748.5,181.86 L749.0,182.77 L749.5,184.00 L750.0,185.50 L750.5,187.22 L751.0,189.10 L751.5,191.10 L752.0,193.16 L752.5,195.25 L753.0,197.33 L753.5,199.38 L754.0,201.36 L754.5,203.27 L755.0,205.10 L755.5,206.83 L756.0,208.47 L756.5,210.01 L757.0,211.46 L757.5,212.82 L758.0,214.09 L758.5,215.27 L759.0,216.38 L759.5,217.41 L760.0,218.37 L760.5,219.27 L761.0,220.10 L761.5,220.88 L762.0,221.61 L762.5,222.28 L763.0,222.92 L763.5,223.51 L764.0,224.06 L764.5,224.58 L765.0,225.07 L765.5,225.53 L766.0,225.95 L766.5,226.35 L767.0,226.73 L767.5,227.09 L768.0,227.42 L768.5,227.74 L769.0,228.04 L769.5,228.32 L770.0,228.58 L770.5,228.83 L771.0,229.07 L771.5,229.30 L772.0,229.51 L772.5,229.71 L773.0,229.90 L773.5,230.09 L774.0,230.26 L774.5,230.43 L775.0,230.58 L775.5,230.73 L776.0,230.88 L776.5,231.01 L777.0,231.14 L777.5,231.27 L778.0,231.39 L778.5,231.50 L779.0,231.61 L779.5,231.71 L780.0,231.81 L780.5,231.91 L781.0,232.00 L781.5,232.09 L782.0,232.17 L782.5,232.25 L783.0,232.33 L783.5,232.41 L784.0,232.48 L784.5,232.55 L785.0,232.62 L785.5,232.68 L786.0,232.74 L786.5,232.80 L787.0,232.86 L787.5,232.91 L788.0,232.97 L788.5,233.02 L789.0,233.07 L789.5,233.12 L790.0,233.17 L790.5,233.21 L791.0,233.26 L791.5,233.30 L792.0,233.34 L792.5,233.38 L793.0,233.42 L793.5,233.45 L794.0,233.49 L794.5,233.53 L795.0,233.56 L795.5,233.59 L796.0,233.62 L796.5,233.66 L797.0,233.69 L797.5,233.71 L798.0,233.74 L798.5,233.77 L799.0,233.80 L799.5,233.82 L800.0,233.85 L800.5,233.87 L801.0,233.90 L801.5,233.92 L802.0,233.94 L802.5,233.97 L803.0,233.99 L803.5,234.01 L804.0,234.03 L804.5,234.05 L805.0,234.07 L805.5,234.09 L806.0,234.11 L806.5,234.13 L807.0,234.14 L807.5,234.16 L808.0,234.18 L808.5,234.19 L809.0,234.21 L809.5,234.22 L810.0,234.24 L810.5,234.26" fill="none" stroke="#6a3d9a" stroke-width="2.4" stroke-linejoin="round"/>
<path d="M473.59999999999997,235.7 L632.5,235.7 M640.4,235.7 L816.1,235.7" stroke="#4d4d4d" stroke-width="2.7" fill="none"/>
<path d="M474.9,235.7 L474.9,183.8" stroke="#4d4d4d" stroke-width="2.6" fill="none"/>
<path d="M469.5,193.2 L474.9,183 L480.29999999999995,193.2" stroke="#4d4d4d" stroke-width="2.4" fill="none" stroke-linecap="round" stroke-linejoin="round"/>
<path d="M807.6,230.2 L817.6,235.7 L807.6,241.2" stroke="#4d4d4d" stroke-width="2.4" fill="none" stroke-linecap="round" stroke-linejoin="round"/>
<path d="M629.70,242.1 L634.90,229.2" stroke="#4d4d4d" stroke-width="2.5" fill="none"/>
<path d="M637.50,242.1 L642.70,229.2" stroke="#4d4d4d" stroke-width="2.5" fill="none"/>
<path d="M496.6,181.1 L496.6,234.79999999999998" stroke="#ff7f00" stroke-width="2.9" stroke-dasharray="9.5 4" stroke-dashoffset="7.8" fill="none"/>
<path d="M501.5,222.0 L572.0,222.0" stroke="#1a1a1a" stroke-width="2.4" fill="none"/>
<path d="M506.3,218.5 L500.5,222.0 L506.3,225.5" stroke="#1a1a1a" stroke-width="2.6" fill="none" stroke-linecap="round" stroke-linejoin="miter"/>
<path d="M567.2,218.5 L573.0,222.0 L567.2,225.5" stroke="#1a1a1a" stroke-width="2.6" fill="none" stroke-linecap="round" stroke-linejoin="miter"/>
<text x="523.95" y="204.55" font-size="21.5" fill="#1a1a1a" stroke="#1a1a1a" stroke-width="0.4">&#937;</text>
<text x="540.45" y="211.25" font-size="15" fill="#1a1a1a" stroke="#1a1a1a" stroke-width="0.4">2</text>
<text x="564.45" y="257.50" font-size="20" font-style="italic" fill="#1a1a1a" stroke="#1a1a1a" stroke-width="0.4">&#969;</text>
<path d="M584.82,263.25 L583.59,263.25 L583.59,255.41 Q583.14,255.83 582.42,256.26 Q581.70,256.68 581.12,256.89 L581.12,255.70 Q582.16,255.22 582.93,254.53 Q583.70,253.84 584.02,253.19 L584.82,253.19 Z" fill="#1a1a1a" stroke="#1a1a1a" stroke-width="0.24"/>
<path d="M667.2,181.1 L667.2,234.79999999999998" stroke="#ff7f00" stroke-width="2.9" stroke-dasharray="9.5 4" stroke-dashoffset="7.8" fill="none"/>
<path d="M672.1,222.0 L742.4,222.0" stroke="#1a1a1a" stroke-width="2.4" fill="none"/>
<path d="M676.9,218.5 L671.1,222.0 L676.9,225.5" stroke="#1a1a1a" stroke-width="2.6" fill="none" stroke-linecap="round" stroke-linejoin="miter"/>
<path d="M737.6,218.5 L743.4,222.0 L737.6,225.5" stroke="#1a1a1a" stroke-width="2.6" fill="none" stroke-linecap="round" stroke-linejoin="miter"/>
<text x="694.45" y="204.55" font-size="21.5" fill="#1a1a1a" stroke="#1a1a1a" stroke-width="0.4">&#937;</text>
<text x="710.95" y="211.25" font-size="15" fill="#1a1a1a" stroke="#1a1a1a" stroke-width="0.4">2</text>
<text x="734.85" y="257.50" font-size="20" font-style="italic" fill="#1a1a1a" stroke="#1a1a1a" stroke-width="0.4">&#969;</text>
<text x="749.70" y="263.25" font-size="14" fill="#1a1a1a" stroke="#1a1a1a" stroke-width="0.4">2</text>
<clipPath id="clip116"><rect x="116.7" y="273.6" width="341.1" height="174.64999999999998"/></clipPath>
<g clip-path="url(#clip116)" fill="#fb9a99" fill-opacity="0.9"><circle cx="116.8" cy="344.8" r="3.5"/><circle cx="118.2" cy="341.1" r="3.5"/><circle cx="119.5" cy="339.5" r="3.5"/><circle cx="120.9" cy="341.9" r="3.5"/><circle cx="122.3" cy="342.9" r="3.5"/><circle cx="123.6" cy="340.0" r="3.5"/><circle cx="125.0" cy="338.5" r="3.5"/><circle cx="126.3" cy="336.9" r="3.5"/><circle cx="127.7" cy="340.6" r="3.5"/><circle cx="129.1" cy="340.2" r="3.5"/><circle cx="130.4" cy="336.2" r="3.5"/><circle cx="131.8" cy="336.1" r="3.5"/><circle cx="133.2" cy="333.7" r="3.5"/><circle cx="134.5" cy="334.2" r="3.5"/><circle cx="135.9" cy="335.5" r="3.5"/><circle cx="137.2" cy="335.3" r="3.5"/><circle cx="138.6" cy="330.1" r="3.5"/><circle cx="140.0" cy="334.3" r="3.5"/><circle cx="141.3" cy="334.5" r="3.5"/><circle cx="142.7" cy="334.6" r="3.5"/><circle cx="144.1" cy="332.1" r="3.5"/><circle cx="145.4" cy="331.5" r="3.5"/><circle cx="146.8" cy="331.7" r="3.5"/><circle cx="148.2" cy="330.7" r="3.5"/><circle cx="149.5" cy="329.7" r="3.5"/><circle cx="150.9" cy="328.5" r="3.5"/><circle cx="152.2" cy="327.4" r="3.5"/><circle cx="153.6" cy="328.1" r="3.5"/><circle cx="155.0" cy="330.4" r="3.5"/><circle cx="156.3" cy="326.3" r="3.5"/><circle cx="157.7" cy="328.8" r="3.5"/><circle cx="159.1" cy="326.5" r="3.5"/><circle cx="160.4" cy="327.7" r="3.5"/><circle cx="161.8" cy="325.1" r="3.5"/><circle cx="163.1" cy="325.6" r="3.5"/><circle cx="164.5" cy="323.7" r="3.5"/><circle cx="165.9" cy="319.1" r="3.5"/><circle cx="167.2" cy="322.9" r="3.5"/><circle cx="168.6" cy="321.2" r="3.5"/><circle cx="170.0" cy="323.3" r="3.5"/><circle cx="171.3" cy="321.5" r="3.5"/><circle cx="172.7" cy="319.7" r="3.5"/><circle cx="174.1" cy="320.1" r="3.5"/><circle cx="175.4" cy="318.9" r="3.5"/><circle cx="176.8" cy="318.7" r="3.5"/><circle cx="178.1" cy="319.3" r="3.5"/><circle cx="179.5" cy="317.0" r="3.5"/><circle cx="180.9" cy="317.9" r="3.5"/><circle cx="182.2" cy="314.3" r="3.5"/><circle cx="183.6" cy="316.4" r="3.5"/><circle cx="185.0" cy="314.5" r="3.5"/><circle cx="186.3" cy="314.6" r="3.5"/><circle cx="187.7" cy="313.0" r="3.5"/><circle cx="189.0" cy="314.0" r="3.5"/><circle cx="190.4" cy="311.8" r="3.5"/><circle cx="191.8" cy="312.3" r="3.5"/><circle cx="193.1" cy="310.3" r="3.5"/><circle cx="194.5" cy="310.4" r="3.5"/><circle cx="195.9" cy="310.2" r="3.5"/><circle cx="197.2" cy="310.5" r="3.5"/><circle cx="198.6" cy="308.4" r="3.5"/><circle cx="200.0" cy="308.1" r="3.5"/><circle cx="201.3" cy="306.4" r="3.5"/><circle cx="202.7" cy="307.6" r="3.5"/><circle cx="204.0" cy="306.2" r="3.5"/><circle cx="205.4" cy="305.6" r="3.5"/><circle cx="206.8" cy="305.2" r="3.5"/><circle cx="208.1" cy="304.7" r="3.5"/><circle cx="209.5" cy="304.1" r="3.5"/><circle cx="210.9" cy="304.1" r="3.5"/><circle cx="212.2" cy="303.8" r="3.5"/><circle cx="213.6" cy="302.7" r="3.5"/><circle cx="215.0" cy="301.3" r="3.5"/><circle cx="216.3" cy="300.0" r="3.5"/><circle cx="217.7" cy="299.8" r="3.5"/><circle cx="219.0" cy="299.1" r="3.5"/><circle cx="220.4" cy="298.8" r="3.5"/><circle cx="221.8" cy="298.2" r="3.5"/><circle cx="223.1" cy="298.0" r="3.5"/><circle cx="224.5" cy="297.0" r="3.5"/><circle cx="225.9" cy="295.7" r="3.5"/><circle cx="227.2" cy="296.6" r="3.5"/><circle cx="228.6" cy="296.2" r="3.5"/><circle cx="229.9" cy="293.8" r="3.5"/><circle cx="231.3" cy="294.4" r="3.5"/><circle cx="232.7" cy="293.4" r="3.5"/><circle cx="234.0" cy="292.9" r="3.5"/><circle cx="235.4" cy="293.6" r="3.5"/><circle cx="236.8" cy="290.7" r="3.5"/><circle cx="238.1" cy="290.6" r="3.5"/><circle cx="239.5" cy="291.1" r="3.5"/><circle cx="240.9" cy="290.2" r="3.5"/><circle cx="242.2" cy="290.1" r="3.5"/><circle cx="243.6" cy="290.1" r="3.5"/><circle cx="244.9" cy="289.2" r="3.5"/><circle cx="246.3" cy="288.4" r="3.5"/><circle cx="247.7" cy="287.4" r="3.5"/><circle cx="249.0" cy="287.2" r="3.5"/><circle cx="250.4" cy="287.1" r="3.5"/><circle cx="251.8" cy="285.9" r="3.5"/><circle cx="253.1" cy="286.6" r="3.5"/><circle cx="254.5" cy="285.3" r="3.5"/><circle cx="255.8" cy="284.7" r="3.5"/><circle cx="257.2" cy="285.0" r="3.5"/><circle cx="258.6" cy="285.4" r="3.5"/><circle cx="259.9" cy="284.5" r="3.5"/><circle cx="261.3" cy="283.5" r="3.5"/><circle cx="262.7" cy="283.0" r="3.5"/><circle cx="264.0" cy="282.1" r="3.5"/><circle cx="265.4" cy="283.1" r="3.5"/><circle cx="266.8" cy="282.2" r="3.5"/><circle cx="268.1" cy="281.6" r="3.5"/><circle cx="269.5" cy="281.7" r="3.5"/><circle cx="270.8" cy="282.5" r="3.5"/><circle cx="272.2" cy="280.6" r="3.5"/><circle cx="273.6" cy="279.7" r="3.5"/><circle cx="274.9" cy="280.1" r="3.5"/><circle cx="276.3" cy="280.8" r="3.5"/><circle cx="277.7" cy="280.4" r="3.5"/><circle cx="279.0" cy="279.9" r="3.5"/><circle cx="280.4" cy="278.6" r="3.5"/><circle cx="281.7" cy="279.4" r="3.5"/><circle cx="283.1" cy="279.5" r="3.5"/><circle cx="284.5" cy="278.7" r="3.5"/><circle cx="285.8" cy="279.4" r="3.5"/><circle cx="287.2" cy="278.4" r="3.5"/><circle cx="288.6" cy="279.6" r="3.5"/><circle cx="289.9" cy="279.5" r="3.5"/><circle cx="291.3" cy="278.9" r="3.5"/><circle cx="292.7" cy="278.6" r="3.5"/><circle cx="294.0" cy="279.0" r="3.5"/><circle cx="295.4" cy="279.3" r="3.5"/><circle cx="296.7" cy="280.4" r="3.5"/><circle cx="298.1" cy="279.9" r="3.5"/><circle cx="299.5" cy="280.0" r="3.5"/><circle cx="300.8" cy="280.1" r="3.5"/><circle cx="302.2" cy="279.7" r="3.5"/><circle cx="303.6" cy="280.3" r="3.5"/><circle cx="304.9" cy="280.0" r="3.5"/><circle cx="306.3" cy="280.5" r="3.5"/><circle cx="307.6" cy="281.0" r="3.5"/><circle cx="309.0" cy="281.0" r="3.5"/><circle cx="310.4" cy="281.1" r="3.5"/><circle cx="311.7" cy="281.2" r="3.5"/><circle cx="313.1" cy="282.1" r="3.5"/><circle cx="314.5" cy="282.3" r="3.5"/><circle cx="315.8" cy="283.2" r="3.5"/><circle cx="317.2" cy="282.1" r="3.5"/><circle cx="318.6" cy="282.5" r="3.5"/><circle cx="319.9" cy="283.7" r="3.5"/><circle cx="321.3" cy="284.3" r="3.5"/><circle cx="322.6" cy="285.1" r="3.5"/><circle cx="324.0" cy="284.7" r="3.5"/><circle cx="325.4" cy="285.1" r="3.5"/><circle cx="326.7" cy="284.5" r="3.5"/><circle cx="328.1" cy="286.0" r="3.5"/><circle cx="329.5" cy="287.1" r="3.5"/><circle cx="330.8" cy="288.5" r="3.5"/><circle cx="332.2" cy="286.8" r="3.5"/><circle cx="333.5" cy="288.0" r="3.5"/><circle cx="334.9" cy="289.5" r="3.5"/><circle cx="336.3" cy="289.0" r="3.5"/><circle cx="337.6" cy="290.6" r="3.5"/><circle cx="339.0" cy="288.0" r="3.5"/><circle cx="340.4" cy="290.0" r="3.5"/><circle cx="341.7" cy="290.9" r="3.5"/><circle cx="343.1" cy="291.9" r="3.5"/><circle cx="344.5" cy="293.7" r="3.5"/><circle cx="345.8" cy="293.0" r="3.5"/><circle cx="347.2" cy="294.5" r="3.5"/><circle cx="348.5" cy="293.6" r="3.5"/><circle cx="349.9" cy="296.0" r="3.5"/><circle cx="351.3" cy="295.8" r="3.5"/><circle cx="352.6" cy="294.9" r="3.5"/><circle cx="354.0" cy="295.2" r="3.5"/><circle cx="355.4" cy="297.8" r="3.5"/><circle cx="356.7" cy="298.6" r="3.5"/><circle cx="358.1" cy="297.5" r="3.5"/><circle cx="359.4" cy="298.1" r="3.5"/><circle cx="360.8" cy="300.1" r="3.5"/><circle cx="362.2" cy="300.5" r="3.5"/><circle cx="363.5" cy="301.1" r="3.5"/><circle cx="364.9" cy="302.1" r="3.5"/><circle cx="366.3" cy="302.3" r="3.5"/><circle cx="367.6" cy="301.4" r="3.5"/><circle cx="369.0" cy="302.4" r="3.5"/><circle cx="370.4" cy="301.9" r="3.5"/><circle cx="371.7" cy="304.3" r="3.5"/><circle cx="373.1" cy="305.0" r="3.5"/><circle cx="374.4" cy="306.3" r="3.5"/><circle cx="375.8" cy="306.2" r="3.5"/><circle cx="377.2" cy="307.9" r="3.5"/><circle cx="378.5" cy="308.9" r="3.5"/><circle cx="379.9" cy="307.3" r="3.5"/><circle cx="381.3" cy="307.2" r="3.5"/><circle cx="382.6" cy="308.4" r="3.5"/><circle cx="384.0" cy="308.5" r="3.5"/><circle cx="385.4" cy="310.1" r="3.5"/><circle cx="386.7" cy="311.7" r="3.5"/><circle cx="388.1" cy="311.5" r="3.5"/><circle cx="389.4" cy="312.6" r="3.5"/><circle cx="390.8" cy="313.9" r="3.5"/><circle cx="392.2" cy="315.2" r="3.5"/><circle cx="393.5" cy="315.6" r="3.5"/><circle cx="394.9" cy="314.6" r="3.5"/><circle cx="396.3" cy="315.1" r="3.5"/><circle cx="397.6" cy="316.3" r="3.5"/><circle cx="399.0" cy="314.8" r="3.5"/><circle cx="400.3" cy="316.8" r="3.5"/><circle cx="401.7" cy="316.9" r="3.5"/><circle cx="403.1" cy="316.8" r="3.5"/><circle cx="404.4" cy="319.7" r="3.5"/><circle cx="405.8" cy="321.7" r="3.5"/><circle cx="407.2" cy="319.0" r="3.5"/><circle cx="408.5" cy="321.4" r="3.5"/><circle cx="409.9" cy="319.5" r="3.5"/><circle cx="411.3" cy="321.3" r="3.5"/><circle cx="412.6" cy="321.0" r="3.5"/><circle cx="414.0" cy="321.9" r="3.5"/><circle cx="415.3" cy="326.1" r="3.5"/><circle cx="416.7" cy="323.0" r="3.5"/><circle cx="418.1" cy="325.4" r="3.5"/><circle cx="419.4" cy="326.1" r="3.5"/><circle cx="420.8" cy="326.3" r="3.5"/><circle cx="422.2" cy="325.2" r="3.5"/><circle cx="423.5" cy="325.6" r="3.5"/><circle cx="424.9" cy="325.9" r="3.5"/><circle cx="426.2" cy="330.3" r="3.5"/><circle cx="427.6" cy="329.3" r="3.5"/><circle cx="429.0" cy="332.5" r="3.5"/><circle cx="430.3" cy="329.7" r="3.5"/><circle cx="431.7" cy="329.2" r="3.5"/><circle cx="433.1" cy="331.8" r="3.5"/><circle cx="434.4" cy="330.8" r="3.5"/><circle cx="435.8" cy="331.3" r="3.5"/><circle cx="437.2" cy="330.6" r="3.5"/><circle cx="438.5" cy="334.1" r="3.5"/><circle cx="439.9" cy="334.6" r="3.5"/><circle cx="441.2" cy="335.0" r="3.5"/><circle cx="442.6" cy="331.4" r="3.5"/><circle cx="444.0" cy="333.0" r="3.5"/><circle cx="445.3" cy="335.6" r="3.5"/><circle cx="446.7" cy="335.5" r="3.5"/><circle cx="448.1" cy="336.2" r="3.5"/><circle cx="449.4" cy="336.5" r="3.5"/><circle cx="450.8" cy="337.8" r="3.5"/><circle cx="452.1" cy="338.5" r="3.5"/><circle cx="453.5" cy="340.7" r="3.5"/><circle cx="454.9" cy="340.1" r="3.5"/><circle cx="456.2" cy="336.4" r="3.5"/><circle cx="457.6" cy="338.9" r="3.5"/></g>
<path d="M116.8,342.34 L117.4,342.14 L117.9,341.94 L118.5,341.74 L119.1,341.54 L119.6,341.33 L120.2,341.13 L120.8,340.93 L121.3,340.72 L121.9,340.52 L122.5,340.31 L123.0,340.11 L123.6,339.90 L124.2,339.70 L124.8,339.49 L125.3,339.28 L125.9,339.08 L126.5,338.87 L127.0,338.66 L127.6,338.45 L128.2,338.24 L128.7,338.03 L129.3,337.82 L129.9,337.61 L130.4,337.40 L131.0,337.19 L131.6,336.98 L132.1,336.77 L132.7,336.56 L133.3,336.34 L133.8,336.13 L134.4,335.92 L135.0,335.70 L135.5,335.49 L136.1,335.27 L136.7,335.06 L137.2,334.84 L137.8,334.63 L138.4,334.41 L139.0,334.19 L139.5,333.97 L140.1,333.76 L140.7,333.54 L141.2,333.32 L141.8,333.10 L142.4,332.88 L142.9,332.66 L143.5,332.44 L144.1,332.22 L144.6,332.00 L145.2,331.77 L145.8,331.55 L146.3,331.33 L146.9,331.11 L147.5,330.88 L148.0,330.66 L148.6,330.43 L149.2,330.21 L149.7,329.98 L150.3,329.76 L150.9,329.53 L151.4,329.31 L152.0,329.08 L152.6,328.85 L153.2,328.62 L153.7,328.40 L154.3,328.17 L154.9,327.94 L155.4,327.71 L156.0,327.48 L156.6,327.25 L157.1,327.02 L157.7,326.78 L158.3,326.55 L158.8,326.32 L159.4,326.09 L160.0,325.86 L160.5,325.62 L161.1,325.39 L161.7,325.15 L162.2,324.92 L162.8,324.68 L163.4,324.45 L163.9,324.21 L164.5,323.98 L165.1,323.74 L165.6,323.50 L166.2,323.26 L166.8,323.03 L167.4,322.79 L167.9,322.55 L168.5,322.31 L169.1,322.07 L169.6,321.83 L170.2,321.59 L170.8,321.35 L171.3,321.11 L171.9,320.87 L172.5,320.63 L173.0,320.38 L173.6,320.14 L174.2,319.90 L174.7,319.65 L175.3,319.41 L175.9,319.17 L176.4,318.92 L177.0,318.68 L177.6,318.43 L178.1,318.19 L178.7,317.94 L179.3,317.69 L179.8,317.45 L180.4,317.20 L181.0,316.95 L181.6,316.71 L182.1,316.46 L182.7,316.21 L183.3,315.96 L183.8,315.71 L184.4,315.46 L185.0,315.21 L185.5,314.96 L186.1,314.71 L186.7,314.46 L187.2,314.21 L187.8,313.96 L188.4,313.71 L188.9,313.46 L189.5,313.21 L190.1,312.95 L190.6,312.70 L191.2,312.45 L191.8,312.20 L192.3,311.94 L192.9,311.69 L193.5,311.44 L194.0,311.18 L194.6,310.93 L195.2,310.67 L195.8,310.42 L196.3,310.17 L196.9,309.91 L197.5,309.66 L198.0,309.40 L198.6,309.15 L199.2,308.89 L199.7,308.64 L200.3,308.38 L200.9,308.12 L201.4,307.87 L202.0,307.61 L202.6,307.36 L203.1,307.10 L203.7,306.84 L204.3,306.59 L204.8,306.33 L205.4,306.08 L206.0,305.82 L206.5,305.56 L207.1,305.31 L207.7,305.05 L208.2,304.79 L208.8,304.54 L209.4,304.28 L210.0,304.03 L210.5,303.77 L211.1,303.51 L211.7,303.26 L212.2,303.00 L212.8,302.75 L213.4,302.49 L213.9,302.24 L214.5,301.98 L215.1,301.73 L215.6,301.47 L216.2,301.22 L216.8,300.96 L217.3,300.71 L217.9,300.46 L218.5,300.20 L219.0,299.95 L219.6,299.70 L220.2,299.44 L220.7,299.19 L221.3,298.94 L221.9,298.69 L222.4,298.44 L223.0,298.19 L223.6,297.94 L224.2,297.69 L224.7,297.44 L225.3,297.19 L225.9,296.94 L226.4,296.69 L227.0,296.45 L227.6,296.20 L228.1,295.96 L228.7,295.71 L229.3,295.47 L229.8,295.22 L230.4,294.98 L231.0,294.74 L231.5,294.50 L232.1,294.26 L232.7,294.02 L233.2,293.78 L233.8,293.54 L234.4,293.30 L234.9,293.06 L235.5,292.83 L236.1,292.59 L236.6,292.36 L237.2,292.13 L237.8,291.90 L238.4,291.67 L238.9,291.44 L239.5,291.21 L240.1,290.98 L240.6,290.76 L241.2,290.53 L241.8,290.31 L242.3,290.09 L242.9,289.87 L243.5,289.65 L244.0,289.43 L244.6,289.21 L245.2,289.00 L245.7,288.78 L246.3,288.57 L246.9,288.36 L247.4,288.15 L248.0,287.94 L248.6,287.74 L249.1,287.53 L249.7,287.33 L250.3,287.13 L250.8,286.93 L251.4,286.74 L252.0,286.54 L252.6,286.35 L253.1,286.15 L253.7,285.97 L254.3,285.78 L254.8,285.59 L255.4,285.41 L256.0,285.23 L256.5,285.05 L257.1,284.87 L257.7,284.69 L258.2,284.52 L258.8,284.35 L259.4,284.18 L259.9,284.02 L260.5,283.85 L261.1,283.69 L261.6,283.53 L262.2,283.37 L262.8,283.22 L263.3,283.07 L263.9,282.92 L264.5,282.77 L265.0,282.63 L265.6,282.49 L266.2,282.35 L266.8,282.21 L267.3,282.08 L267.9,281.95 L268.5,281.82 L269.0,281.70 L269.6,281.58 L270.2,281.46 L270.7,281.34 L271.3,281.23 L271.9,281.12 L272.4,281.01 L273.0,280.90 L273.6,280.80 L274.1,280.70 L274.7,280.61 L275.3,280.52 L275.8,280.43 L276.4,280.34 L277.0,280.26 L277.5,280.18 L278.1,280.11 L278.7,280.03 L279.2,279.96 L279.8,279.90 L280.4,279.83 L281.0,279.77 L281.5,279.72 L282.1,279.66 L282.7,279.61 L283.2,279.57 L283.8,279.52 L284.4,279.49 L284.9,279.45 L285.5,279.42 L286.1,279.39 L286.6,279.36 L287.2,279.34 L287.8,279.32 L288.3,279.30 L288.9,279.29 L289.5,279.28 L290.0,279.28 L290.6,279.28 L291.2,279.28 L291.7,279.28 L292.3,279.29 L292.9,279.30 L293.4,279.32 L294.0,279.34 L294.6,279.36 L295.2,279.39 L295.7,279.42 L296.3,279.45 L296.9,279.49 L297.4,279.52 L298.0,279.57 L298.6,279.61 L299.1,279.66 L299.7,279.72 L300.3,279.77 L300.8,279.83 L301.4,279.90 L302.0,279.96 L302.5,280.03 L303.1,280.11 L303.7,280.18 L304.2,280.26 L304.8,280.34 L305.4,280.43 L305.9,280.52 L306.5,280.61 L307.1,280.70 L307.6,280.80 L308.2,280.90 L308.8,281.01 L309.4,281.12 L309.9,281.23 L310.5,281.34 L311.1,281.46 L311.6,281.58 L312.2,281.70 L312.8,281.82 L313.3,281.95 L313.9,282.08 L314.5,282.21 L315.0,282.35 L315.6,282.49 L316.2,282.63 L316.7,282.77 L317.3,282.92 L317.9,283.07 L318.4,283.22 L319.0,283.37 L319.6,283.53 L320.1,283.69 L320.7,283.85 L321.3,284.02 L321.8,284.18 L322.4,284.35 L323.0,284.52 L323.6,284.69 L324.1,284.87 L324.7,285.05 L325.3,285.23 L325.8,285.41 L326.4,285.59 L327.0,285.78 L327.5,285.97 L328.1,286.15 L328.7,286.35 L329.2,286.54 L329.8,286.74 L330.4,286.93 L330.9,287.13 L331.5,287.33 L332.1,287.53 L332.6,287.74 L333.2,287.94 L333.8,288.15 L334.3,288.36 L334.9,288.57 L335.5,288.78 L336.0,289.00 L336.6,289.21 L337.2,289.43 L337.8,289.65 L338.3,289.87 L338.9,290.09 L339.5,290.31 L340.0,290.53 L340.6,290.76 L341.2,290.98 L341.7,291.21 L342.3,291.44 L342.9,291.67 L343.4,291.90 L344.0,292.13 L344.6,292.36 L345.1,292.59 L345.7,292.83 L346.3,293.06 L346.8,293.30 L347.4,293.54 L348.0,293.78 L348.5,294.02 L349.1,294.26 L349.7,294.50 L350.2,294.74 L350.8,294.98 L351.4,295.22 L352.0,295.47 L352.5,295.71 L353.1,295.96 L353.7,296.20 L354.2,296.45 L354.8,296.69 L355.4,296.94 L355.9,297.19 L356.5,297.44 L357.1,297.69 L357.6,297.94 L358.2,298.19 L358.8,298.44 L359.3,298.69 L359.9,298.94 L360.5,299.19 L361.0,299.44 L361.6,299.70 L362.2,299.95 L362.7,300.20 L363.3,300.46 L363.9,300.71 L364.4,300.96 L365.0,301.22 L365.6,301.47 L366.2,301.73 L366.7,301.98 L367.3,302.24 L367.9,302.49 L368.4,302.75 L369.0,303.00 L369.6,303.26 L370.1,303.51 L370.7,303.77 L371.3,304.03 L371.8,304.28 L372.4,304.54 L373.0,304.79 L373.5,305.05 L374.1,305.31 L374.7,305.56 L375.2,305.82 L375.8,306.08 L376.4,306.33 L376.9,306.59 L377.5,306.84 L378.1,307.10 L378.6,307.36 L379.2,307.61 L379.8,307.87 L380.4,308.12 L380.9,308.38 L381.5,308.64 L382.1,308.89 L382.6,309.15 L383.2,309.40 L383.8,309.66 L384.3,309.91 L384.9,310.17 L385.5,310.42 L386.0,310.67 L386.6,310.93 L387.2,311.18 L387.7,311.44 L388.3,311.69 L388.9,311.94 L389.4,312.20 L390.0,312.45 L390.6,312.70 L391.1,312.95 L391.7,313.21 L392.3,313.46 L392.8,313.71 L393.4,313.96 L394.0,314.21 L394.6,314.46 L395.1,314.71 L395.7,314.96 L396.3,315.21 L396.8,315.46 L397.4,315.71 L398.0,315.96 L398.5,316.21 L399.1,316.46 L399.7,316.71 L400.2,316.95 L400.8,317.20 L401.4,317.45 L401.9,317.69 L402.5,317.94 L403.1,318.19 L403.6,318.43 L404.2,318.68 L404.8,318.92 L405.3,319.17 L405.9,319.41 L406.5,319.65 L407.0,319.90 L407.6,320.14 L408.2,320.38 L408.8,320.63 L409.3,320.87 L409.9,321.11 L410.5,321.35 L411.0,321.59 L411.6,321.83 L412.2,322.07 L412.7,322.31 L413.3,322.55 L413.9,322.79 L414.4,323.03 L415.0,323.26 L415.6,323.50 L416.1,323.74 L416.7,323.98 L417.3,324.21 L417.8,324.45 L418.4,324.68 L419.0,324.92 L419.5,325.15 L420.1,325.39 L420.7,325.62 L421.2,325.86 L421.8,326.09 L422.4,326.32 L423.0,326.55 L423.5,326.78 L424.1,327.02 L424.7,327.25 L425.2,327.48 L425.8,327.71 L426.4,327.94 L426.9,328.17 L427.5,328.40 L428.1,328.62 L428.6,328.85 L429.2,329.08 L429.8,329.31 L430.3,329.53 L430.9,329.76 L431.5,329.98 L432.0,330.21 L432.6,330.43 L433.2,330.66 L433.7,330.88 L434.3,331.11 L434.9,331.33 L435.4,331.55 L436.0,331.77 L436.6,332.00 L437.2,332.22 L437.7,332.44 L438.3,332.66 L438.9,332.88 L439.4,333.10 L440.0,333.32 L440.6,333.54 L441.1,333.76 L441.7,333.97 L442.3,334.19 L442.8,334.41 L443.4,334.63 L444.0,334.84 L444.5,335.06 L445.1,335.27 L445.7,335.49 L446.2,335.70 L446.8,335.92 L447.4,336.13 L447.9,336.34 L448.5,336.56 L449.1,336.77 L449.6,336.98 L450.2,337.19 L450.8,337.40 L451.4,337.61 L451.9,337.82 L452.5,338.03 L453.1,338.24 L453.6,338.45 L454.2,338.66 L454.8,338.87 L455.3,339.08 L455.9,339.28 L456.5,339.49 L457.0,339.70 L457.6,339.90" fill="none" stroke="#e31a1c" stroke-width="3.8" stroke-linejoin="round" clip-path="url(#clip116)"/>
<rect x="116.7" y="273.6" width="341.1" height="174.64999999999998" fill="none" stroke="#262626" stroke-width="1.3"/>
<text x="93.58" y="280.85" font-size="20" fill="#1a1a1a" stroke="#1a1a1a" stroke-width="0.4">0</text>
<path d="M116.7,317.26 L129.7,317.26" stroke="#262626" stroke-width="1.3"/>
<text x="81.90" y="324.51" font-size="20" fill="#1a1a1a" stroke="#1a1a1a" stroke-width="0.4">−</text>
<text x="93.58" y="324.51" font-size="20" fill="#1a1a1a" stroke="#1a1a1a" stroke-width="0.4">5</text>
<path d="M116.7,360.93 L129.7,360.93" stroke="#262626" stroke-width="1.3"/>
<text x="70.78" y="368.18" font-size="20" fill="#1a1a1a" stroke="#1a1a1a" stroke-width="0.4">−</text>
<path d="M89.91,368.18 L88.15,368.18 L88.15,356.97 Q87.52,357.58 86.49,358.19 Q85.46,358.79 84.64,359.09 L84.64,357.39 Q86.11,356.70 87.22,355.72 Q88.32,354.73 88.78,353.80 L89.91,353.80 Z" fill="#1a1a1a" stroke="#1a1a1a" stroke-width="0.24"/>
<text x="93.58" y="368.18" font-size="20" fill="#1a1a1a" stroke="#1a1a1a" stroke-width="0.4">0</text>
<path d="M116.7,404.59 L129.7,404.59" stroke="#262626" stroke-width="1.3"/>
<text x="70.78" y="411.84" font-size="20" fill="#1a1a1a" stroke="#1a1a1a" stroke-width="0.4">−</text>
<path d="M89.91,411.84 L88.15,411.84 L88.15,400.64 Q87.52,401.24 86.49,401.85 Q85.46,402.45 84.64,402.76 L84.64,401.06 Q86.11,400.36 87.22,399.38 Q88.32,398.39 88.78,397.46 L89.91,397.46 Z" fill="#1a1a1a" stroke="#1a1a1a" stroke-width="0.24"/>
<text x="93.58" y="411.84" font-size="20" fill="#1a1a1a" stroke="#1a1a1a" stroke-width="0.4">5</text>
<text x="70.78" y="455.50" font-size="20" fill="#1a1a1a" stroke="#1a1a1a" stroke-width="0.4">−</text>
<text x="82.46" y="455.50" font-size="20" fill="#1a1a1a" stroke="#1a1a1a" stroke-width="0.4">2</text>
<text x="93.58" y="455.50" font-size="20" fill="#1a1a1a" stroke="#1a1a1a" stroke-width="0.4">0</text>
<path d="M173.60,448.25 L173.60,435.95" stroke="#262626" stroke-width="1.3"/>
<text x="156.64" y="474.25" font-size="20" fill="#1a1a1a" stroke="#1a1a1a" stroke-width="0.4">−</text>
<text x="168.32" y="474.25" font-size="20" fill="#1a1a1a" stroke="#1a1a1a" stroke-width="0.4">5</text>
<text x="179.44" y="474.25" font-size="20" fill="#1a1a1a" stroke="#1a1a1a" stroke-width="0.4">0</text>
<path d="M287.20,448.25 L287.20,435.95" stroke="#262626" stroke-width="1.3"/>
<text x="281.64" y="474.25" font-size="20" fill="#1a1a1a" stroke="#1a1a1a" stroke-width="0.4">0</text>
<path d="M400.80,448.25 L400.80,435.95" stroke="#262626" stroke-width="1.3"/>
<text x="389.68" y="474.25" font-size="20" fill="#1a1a1a" stroke="#1a1a1a" stroke-width="0.4">5</text>
<text x="400.80" y="474.25" font-size="20" fill="#1a1a1a" stroke="#1a1a1a" stroke-width="0.4">0</text>
<text x="286.85" y="500.10" font-size="22" text-anchor="middle" fill="#1a1a1a" stroke="#1a1a1a" stroke-width="0.4">Detuning from cavity center (kHz)</text>
<clipPath id="clip474"><rect x="474.7" y="273.6" width="341.15000000000003" height="174.64999999999998"/></clipPath>
<g clip-path="url(#clip474)" fill="#fdbf6f" fill-opacity="0.9"><circle cx="548.8" cy="447.6" r="3.6"/><circle cx="551.7" cy="452.6" r="3.6"/><circle cx="554.5" cy="449.5" r="3.6"/><circle cx="557.4" cy="444.9" r="3.6"/><circle cx="560.2" cy="439.9" r="3.6"/><circle cx="563.0" cy="447.2" r="3.6"/><circle cx="565.9" cy="447.9" r="3.6"/><circle cx="568.7" cy="437.1" r="3.6"/><circle cx="571.6" cy="448.7" r="3.6"/><circle cx="574.4" cy="442.6" r="3.6"/><circle cx="577.2" cy="436.4" r="3.6"/><circle cx="580.1" cy="430.1" r="3.6"/><circle cx="582.9" cy="438.1" r="3.6"/><circle cx="585.8" cy="438.0" r="3.6"/><circle cx="588.6" cy="425.4" r="3.6"/><circle cx="591.4" cy="425.8" r="3.6"/><circle cx="594.3" cy="420.9" r="3.6"/><circle cx="597.1" cy="413.3" r="3.6"/><circle cx="600.0" cy="409.3" r="3.6"/><circle cx="602.8" cy="403.9" r="3.6"/><circle cx="605.6" cy="400.7" r="3.6"/><circle cx="608.5" cy="389.3" r="3.6"/><circle cx="611.3" cy="382.5" r="3.6"/><circle cx="614.2" cy="380.4" r="3.6"/><circle cx="617.0" cy="375.0" r="3.6"/><circle cx="619.8" cy="364.7" r="3.6"/><circle cx="622.7" cy="357.7" r="3.6"/><circle cx="625.5" cy="352.6" r="3.6"/><circle cx="628.4" cy="341.4" r="3.6"/><circle cx="631.2" cy="327.1" r="3.6"/><circle cx="634.0" cy="316.1" r="3.6"/><circle cx="636.9" cy="302.3" r="3.6"/><circle cx="639.7" cy="288.7" r="3.6"/><circle cx="642.6" cy="280.9" r="3.6"/><circle cx="645.4" cy="282.3" r="3.6"/><circle cx="648.2" cy="294.1" r="3.6"/><circle cx="651.1" cy="303.5" r="3.6"/><circle cx="653.9" cy="319.4" r="3.6"/><circle cx="656.8" cy="334.5" r="3.6"/><circle cx="659.6" cy="342.9" r="3.6"/><circle cx="662.4" cy="355.6" r="3.6"/><circle cx="665.3" cy="366.6" r="3.6"/><circle cx="668.1" cy="372.9" r="3.6"/><circle cx="671.0" cy="379.0" r="3.6"/><circle cx="673.8" cy="389.6" r="3.6"/><circle cx="676.6" cy="392.6" r="3.6"/><circle cx="679.5" cy="397.7" r="3.6"/><circle cx="682.3" cy="412.2" r="3.6"/><circle cx="685.2" cy="415.4" r="3.6"/><circle cx="688.0" cy="415.4" r="3.6"/><circle cx="690.8" cy="428.9" r="3.6"/><circle cx="693.7" cy="427.8" r="3.6"/><circle cx="696.5" cy="425.7" r="3.6"/><circle cx="699.4" cy="430.3" r="3.6"/><circle cx="702.2" cy="435.7" r="3.6"/><circle cx="705.0" cy="448.4" r="3.6"/><circle cx="707.9" cy="437.7" r="3.6"/><circle cx="710.7" cy="445.6" r="3.6"/><circle cx="713.6" cy="447.6" r="3.6"/><circle cx="716.4" cy="451.6" r="3.6"/></g>
<path d="M475.0,515.06 L475.6,514.80 L476.1,514.54 L476.7,514.29 L477.3,514.03 L477.8,513.77 L478.4,513.51 L479.0,513.25 L479.5,512.99 L480.1,512.72 L480.7,512.46 L481.2,512.20 L481.8,511.93 L482.4,511.67 L483.0,511.40 L483.5,511.13 L484.1,510.86 L484.7,510.59 L485.2,510.32 L485.8,510.05 L486.4,509.78 L486.9,509.50 L487.5,509.23 L488.1,508.95 L488.6,508.67 L489.2,508.40 L489.8,508.12 L490.3,507.84 L490.9,507.56 L491.5,507.27 L492.0,506.99 L492.6,506.71 L493.2,506.42 L493.7,506.14 L494.3,505.85 L494.9,505.56 L495.4,505.27 L496.0,504.98 L496.6,504.69 L497.2,504.40 L497.7,504.10 L498.3,503.81 L498.9,503.51 L499.4,503.21 L500.0,502.91 L500.6,502.61 L501.1,502.31 L501.7,502.01 L502.3,501.71 L502.8,501.40 L503.4,501.10 L504.0,500.79 L504.5,500.48 L505.1,500.17 L505.7,499.86 L506.2,499.55 L506.8,499.24 L507.4,498.92 L507.9,498.61 L508.5,498.29 L509.1,497.97 L509.6,497.65 L510.2,497.33 L510.8,497.01 L511.4,496.68 L511.9,496.36 L512.5,496.03 L513.1,495.70 L513.6,495.37 L514.2,495.04 L514.8,494.71 L515.3,494.37 L515.9,494.04 L516.5,493.70 L517.0,493.36 L517.6,493.02 L518.2,492.68 L518.7,492.34 L519.3,491.99 L519.9,491.65 L520.4,491.30 L521.0,490.95 L521.6,490.60 L522.1,490.25 L522.7,489.89 L523.3,489.54 L523.8,489.18 L524.4,488.82 L525.0,488.46 L525.6,488.10 L526.1,487.73 L526.7,487.37 L527.3,487.00 L527.8,486.63 L528.4,486.26 L529.0,485.88 L529.5,485.51 L530.1,485.13 L530.7,484.75 L531.2,484.37 L531.8,483.99 L532.4,483.61 L532.9,483.22 L533.5,482.83 L534.1,482.44 L534.6,482.05 L535.2,481.65 L535.8,481.26 L536.3,480.86 L536.9,480.46 L537.5,480.05 L538.0,479.65 L538.6,479.24 L539.2,478.83 L539.8,478.42 L540.3,478.01 L540.9,477.59 L541.5,477.17 L542.0,476.75 L542.6,476.33 L543.2,475.90 L543.7,475.48 L544.3,475.05 L544.9,474.61 L545.4,474.18 L546.0,473.74 L546.6,473.30 L547.1,472.86 L547.7,472.41 L548.3,471.96 L548.8,471.51 L549.4,471.06 L550.0,470.60 L550.5,470.15 L551.1,469.68 L551.7,469.22 L552.2,468.75 L552.8,468.28 L553.4,467.81 L554.0,467.34 L554.5,466.86 L555.1,466.37 L555.7,465.89 L556.2,465.40 L556.8,464.91 L557.4,464.42 L557.9,463.92 L558.5,463.42 L559.1,462.92 L559.6,462.41 L560.2,461.90 L560.8,461.38 L561.3,460.87 L561.9,460.34 L562.5,459.82 L563.0,459.29 L563.6,458.76 L564.2,458.22 L564.7,457.68 L565.3,457.14 L565.9,456.59 L566.4,456.04 L567.0,455.49 L567.6,454.93 L568.2,454.36 L568.7,453.80 L569.3,453.23 L569.9,452.65 L570.4,452.07 L571.0,451.48 L571.6,450.90 L572.1,450.30 L572.7,449.70 L573.3,449.10 L573.8,448.49 L574.4,447.88 L575.0,447.26 L575.5,446.64 L576.1,446.01 L576.7,445.38 L577.2,444.74 L577.8,444.10 L578.4,443.45 L578.9,442.79 L579.5,442.13 L580.1,441.47 L580.6,440.79 L581.2,440.12 L581.8,439.43 L582.4,438.74 L582.9,438.05 L583.5,437.35 L584.1,436.64 L584.6,435.92 L585.2,435.20 L585.8,434.47 L586.3,433.73 L586.9,432.99 L587.5,432.24 L588.0,431.48 L588.6,430.72 L589.2,429.95 L589.7,429.17 L590.3,428.38 L590.9,427.58 L591.4,426.78 L592.0,425.96 L592.6,425.14 L593.1,424.31 L593.7,423.47 L594.3,422.62 L594.8,421.76 L595.4,420.90 L596.0,420.02 L596.6,419.13 L597.1,418.23 L597.7,417.33 L598.3,416.41 L598.8,415.48 L599.4,414.54 L600.0,413.58 L600.5,412.62 L601.1,411.64 L601.7,410.66 L602.2,409.65 L602.8,408.64 L603.4,407.61 L603.9,406.57 L604.5,405.52 L605.1,404.45 L605.6,403.36 L606.2,402.27 L606.8,401.15 L607.3,400.02 L607.9,398.87 L608.5,397.71 L609.0,396.53 L609.6,395.33 L610.2,394.11 L610.8,392.88 L611.3,391.62 L611.9,390.35 L612.5,389.06 L613.0,387.74 L613.6,386.40 L614.2,385.04 L614.7,383.66 L615.3,382.25 L615.9,380.82 L616.4,379.36 L617.0,377.88 L617.6,376.36 L618.1,374.83 L618.7,373.26 L619.3,371.66 L619.8,370.03 L620.4,368.37 L621.0,366.68 L621.5,364.95 L622.1,363.19 L622.7,361.39 L623.2,359.55 L623.8,357.67 L624.4,355.75 L625.0,353.80 L625.5,351.79 L626.1,349.75 L626.7,347.66 L627.2,345.52 L627.8,343.33 L628.4,341.09 L628.9,338.81 L629.5,336.47 L630.1,334.08 L630.6,331.64 L631.2,329.14 L631.8,326.59 L632.3,324.00 L632.9,321.35 L633.5,318.66 L634.0,315.92 L634.6,313.15 L635.2,310.36 L635.7,307.54 L636.3,304.72 L636.9,301.91 L637.4,299.13 L638.0,296.41 L638.6,293.77 L639.2,291.25 L639.7,288.88 L640.3,286.71 L640.9,284.79 L641.4,283.15 L642.0,281.85 L642.6,280.91 L643.1,280.37 L643.7,280.25 L644.3,280.54 L644.8,281.24 L645.4,282.33 L646.0,283.77 L646.5,285.53 L647.1,287.55 L647.7,289.81 L648.2,292.24 L648.8,294.81 L649.4,297.49 L649.9,300.24 L650.5,303.03 L651.1,305.85 L651.6,308.67 L652.2,311.48 L652.8,314.27 L653.4,317.02 L653.9,319.74 L654.5,322.41 L655.1,325.04 L655.6,327.62 L656.2,330.14 L656.8,332.62 L657.3,335.04 L657.9,337.41 L658.5,339.73 L659.0,341.99 L659.6,344.21 L660.2,346.38 L660.7,348.50 L661.3,350.57 L661.9,352.60 L662.4,354.58 L663.0,356.53 L663.6,358.43 L664.1,360.29 L664.7,362.11 L665.3,363.90 L665.8,365.64 L666.4,367.36 L667.0,369.04 L667.6,370.69 L668.1,372.30 L668.7,373.89 L669.3,375.44 L669.8,376.97 L670.4,378.47 L671.0,379.95 L671.5,381.39 L672.1,382.82 L672.7,384.21 L673.2,385.59 L673.8,386.94 L674.4,388.27 L674.9,389.58 L675.5,390.86 L676.1,392.13 L676.6,393.38 L677.2,394.60 L677.8,395.81 L678.3,397.00 L678.9,398.18 L679.5,399.33 L680.0,400.47 L680.6,401.60 L681.2,402.71 L681.8,403.80 L682.3,404.88 L682.9,405.94 L683.5,406.99 L684.0,408.03 L684.6,409.05 L685.2,410.06 L685.7,411.05 L686.3,412.04 L686.9,413.01 L687.4,413.97 L688.0,414.91 L688.6,415.85 L689.1,416.78 L689.7,417.69 L690.3,418.59 L690.8,419.49 L691.4,420.37 L692.0,421.25 L692.5,422.11 L693.1,422.96 L693.7,423.81 L694.2,424.64 L694.8,425.47 L695.4,426.29 L696.0,427.10 L696.5,427.90 L697.1,428.69 L697.7,429.48 L698.2,430.26 L698.8,431.03 L699.4,431.79 L699.9,432.54 L700.5,433.29 L701.1,434.03 L701.6,434.76 L702.2,435.49 L702.8,436.21 L703.3,436.92 L703.9,437.63 L704.5,438.33 L705.0,439.02 L705.6,439.71 L706.2,440.39 L706.7,441.06 L707.3,441.73 L707.9,442.40 L708.4,443.05 L709.0,443.71 L709.6,444.35 L710.2,445.00 L710.7,445.63 L711.3,446.26 L711.9,446.89 L712.4,447.51 L713.0,448.12 L713.6,448.74 L714.1,449.34 L714.7,449.94 L715.3,450.54 L715.8,451.13 L716.4,451.72 L717.0,452.30 L717.5,452.88 L718.1,453.45 L718.7,454.02 L719.2,454.59 L719.8,455.15 L720.4,455.71 L720.9,456.26 L721.5,456.81 L722.1,457.36 L722.6,457.90 L723.2,458.44 L723.8,458.97 L724.4,459.50 L724.9,460.03 L725.5,460.55 L726.1,461.07 L726.6,461.59 L727.2,462.10 L727.8,462.61 L728.3,463.12 L728.9,463.62 L729.5,464.12 L730.0,464.62 L730.6,465.11 L731.2,465.60 L731.7,466.08 L732.3,466.57 L732.9,467.05 L733.4,467.53 L734.0,468.00 L734.6,468.47 L735.1,468.94 L735.7,469.41 L736.3,469.87 L736.8,470.33 L737.4,470.79 L738.0,471.24 L738.6,471.69 L739.1,472.14 L739.7,472.59 L740.3,473.03 L740.8,473.48 L741.4,473.92 L742.0,474.35 L742.5,474.79 L743.1,475.22 L743.7,475.65 L744.2,476.07 L744.8,476.50 L745.4,476.92 L745.9,477.34 L746.5,477.76 L747.1,478.17 L747.6,478.59 L748.2,479.00 L748.8,479.40 L749.3,479.81 L749.9,480.21 L750.5,480.62 L751.0,481.02 L751.6,481.41 L752.2,481.81 L752.8,482.20 L753.3,482.60 L753.9,482.99 L754.5,483.37 L755.0,483.76 L755.6,484.14 L756.2,484.52 L756.7,484.90 L757.3,485.28 L757.9,485.66 L758.4,486.03 L759.0,486.41 L759.6,486.78 L760.1,487.15 L760.7,487.51 L761.3,487.88 L761.8,488.24 L762.4,488.60 L763.0,488.96 L763.5,489.32 L764.1,489.68 L764.7,490.03 L765.2,490.39 L765.8,490.74 L766.4,491.09 L767.0,491.44 L767.5,491.79 L768.1,492.13 L768.7,492.48 L769.2,492.82 L769.8,493.16 L770.4,493.50 L770.9,493.84 L771.5,494.17 L772.1,494.51 L772.6,494.84 L773.2,495.17 L773.8,495.50 L774.3,495.83 L774.9,496.16 L775.5,496.49 L776.0,496.81 L776.6,497.13 L777.2,497.46 L777.7,497.78 L778.3,498.10 L778.9,498.42 L779.4,498.73 L780.0,499.05 L780.6,499.36 L781.2,499.67 L781.7,499.99 L782.3,500.30 L782.9,500.61 L783.4,500.91 L784.0,501.22 L784.6,501.52 L785.1,501.83 L785.7,502.13 L786.3,502.43 L786.8,502.73 L787.4,503.03 L788.0,503.33 L788.5,503.63 L789.1,503.92 L789.7,504.22 L790.2,504.51 L790.8,504.80 L791.4,505.10 L791.9,505.39 L792.5,505.68 L793.1,505.96 L793.6,506.25 L794.2,506.54 L794.8,506.82 L795.4,507.10 L795.9,507.39 L796.5,507.67 L797.1,507.95 L797.6,508.23 L798.2,508.51 L798.8,508.78 L799.3,509.06 L799.9,509.34 L800.5,509.61 L801.0,509.88 L801.6,510.16 L802.2,510.43 L802.7,510.70 L803.3,510.97 L803.9,511.24 L804.4,511.51 L805.0,511.77 L805.6,512.04 L806.1,512.30 L806.7,512.57 L807.3,512.83 L807.8,513.09 L808.4,513.35 L809.0,513.61 L809.6,513.87 L810.1,514.13 L810.7,514.39 L811.3,514.65 L811.8,514.90 L812.4,515.16 L813.0,515.41 L813.5,515.66 L814.1,515.92 L814.7,516.17 L815.2,516.42 L815.8,516.67" fill="none" stroke="#ff7f00" stroke-width="3.8" stroke-linejoin="round" clip-path="url(#clip474)"/>
<rect x="474.7" y="273.6" width="341.15000000000003" height="174.64999999999998" fill="none" stroke="#262626" stroke-width="1.3"/>
<path d="M474.7,317.26 L487.7,317.26" stroke="#262626" stroke-width="1.3"/>
<path d="M474.7,360.93 L487.7,360.93" stroke="#262626" stroke-width="1.3"/>
<path d="M474.7,404.59 L487.7,404.59" stroke="#262626" stroke-width="1.3"/>
<path d="M531.80,448.25 L531.80,435.95" stroke="#262626" stroke-width="1.3"/>
<text x="514.84" y="474.25" font-size="20" fill="#1a1a1a" stroke="#1a1a1a" stroke-width="0.4">−</text>
<text x="526.52" y="474.25" font-size="20" fill="#1a1a1a" stroke="#1a1a1a" stroke-width="0.4">5</text>
<text x="537.64" y="474.25" font-size="20" fill="#1a1a1a" stroke="#1a1a1a" stroke-width="0.4">0</text>
<path d="M645.40,448.25 L645.40,435.95" stroke="#262626" stroke-width="1.3"/>
<text x="639.84" y="474.25" font-size="20" fill="#1a1a1a" stroke="#1a1a1a" stroke-width="0.4">0</text>
<path d="M759.00,448.25 L759.00,435.95" stroke="#262626" stroke-width="1.3"/>
<text x="747.88" y="474.25" font-size="20" fill="#1a1a1a" stroke="#1a1a1a" stroke-width="0.4">5</text>
<text x="759.00" y="474.25" font-size="20" fill="#1a1a1a" stroke="#1a1a1a" stroke-width="0.4">0</text>
<text x="644.88" y="500.10" font-size="22" text-anchor="middle" fill="#1a1a1a" stroke="#1a1a1a" stroke-width="0.4">Detuning from cavity center (kHz)</text>
<text transform="translate(64.0,361.0) rotate(-90)" font-size="22" text-anchor="middle" fill="#1a1a1a" stroke="#1a1a1a" stroke-width="0.4">Transmission (dB)</text>
<clipPath id="clipd"><rect x="116.7" y="533.65" width="699.15" height="200.35000000000002"/></clipPath>
<g clip-path="url(#clipd)">
<path d="M114.7,611.75 L116.7,610.82 L118.7,609.90 L120.7,609.01 L122.7,608.13 L124.7,607.27 L126.7,606.43 L128.7,605.60 L130.7,604.79 L132.7,604.00 L134.7,603.22 L136.7,602.46 L138.7,601.71 L140.7,600.97 L142.7,600.25 L144.7,599.55 L146.7,598.85 L148.7,598.18 L150.7,597.51 L152.7,596.86 L154.7,596.21 L156.7,595.59 L158.7,594.97 L160.7,594.36 L162.7,593.77 L164.7,593.19 L166.7,592.62 L168.7,592.06 L170.7,591.51 L172.7,590.97 L174.7,590.44 L176.7,589.92 L178.7,589.40 L180.7,588.90 L182.7,588.41 L184.7,587.93 L186.7,587.46 L188.7,586.99 L190.7,586.53 L192.7,586.09 L194.7,585.65 L196.7,585.21 L198.7,584.79 L200.7,584.37 L202.7,583.97 L204.7,583.56 L206.7,583.17 L208.7,582.78 L210.7,582.40 L212.7,582.03 L214.7,581.66 L216.7,581.30 L218.7,580.95 L220.7,580.60 L222.7,580.26 L224.7,579.92 L226.7,579.59 L228.7,579.27 L230.7,578.95 L232.7,578.64 L234.7,578.33 L236.7,578.03 L238.7,577.74 L240.7,577.44 L242.7,577.16 L244.7,576.88 L246.7,576.60 L248.7,576.33 L250.7,576.06 L252.7,575.80 L254.7,575.54 L256.7,575.29 L258.7,575.04 L260.7,574.80 L262.7,574.55 L264.7,574.32 L266.7,574.09 L268.7,573.86 L270.7,573.63 L272.7,573.41 L274.7,573.19 L276.7,572.98 L278.7,572.77 L280.7,572.56 L282.7,572.36 L284.7,572.16 L286.7,571.96 L288.7,571.77 L290.7,571.58 L292.7,571.39 L294.7,571.21 L296.7,571.03 L298.7,570.85 L300.7,570.68 L302.7,570.50 L304.7,570.33 L306.7,570.17 L308.7,570.00 L310.7,569.84 L312.7,569.68 L314.7,569.53 L316.7,569.37 L318.7,569.22 L320.7,569.07 L322.7,568.93 L324.7,568.78 L326.7,568.64 L328.7,568.50 L330.7,568.36 L332.7,568.23 L334.7,568.10 L336.7,567.96 L338.7,567.84 L340.7,567.71 L342.7,567.58 L344.7,567.46 L346.7,567.34 L348.7,567.22 L350.7,567.10 L352.7,566.99 L354.7,566.87 L356.7,566.76 L358.7,566.65 L360.7,566.54 L362.7,566.44 L364.7,566.33 L366.7,566.23 L368.7,566.13 L370.7,566.03 L372.7,565.93 L374.7,565.83 L376.7,565.73 L378.7,565.64 L380.7,565.55 L382.7,565.46 L384.7,565.37 L386.7,565.28 L388.7,565.19 L390.7,565.10 L392.7,565.02 L394.7,564.93 L396.7,564.85 L398.7,564.77 L400.7,564.69 L402.7,564.61 L404.7,564.53 L406.7,564.46 L408.7,564.38 L410.7,564.31 L412.7,564.24 L414.7,564.16 L416.7,564.09 L418.7,564.02 L420.7,563.95 L422.7,563.89 L424.7,563.82 L426.7,563.75 L428.7,563.69 L430.7,563.63 L432.7,563.56 L434.7,563.50 L436.7,563.44 L438.7,563.38 L440.7,563.32 L442.7,563.26 L444.7,563.20 L446.7,563.15 L448.7,563.09 L450.7,563.04 L452.7,562.98 L454.7,562.93 L456.7,562.88 L458.7,562.82 L460.7,562.77 L462.7,562.72 L464.7,562.67 L466.7,562.62 L468.7,562.58 L470.7,562.53 L472.7,562.48 L474.7,562.44 L476.7,562.39 L478.7,562.34 L480.7,562.30 L482.7,562.26 L484.7,562.21 L486.7,562.17 L488.7,562.13 L490.7,562.09 L492.7,562.05 L494.7,562.01 L496.7,561.97 L498.7,561.93 L500.7,561.89 L502.7,561.86 L504.7,561.82 L506.7,561.78 L508.7,561.75 L510.7,561.71 L512.7,561.68 L514.7,561.64 L516.7,561.61 L518.7,561.57 L520.7,561.54 L522.7,561.51 L524.7,561.48 L526.7,561.45 L528.7,561.41 L530.7,561.38 L532.7,561.35 L534.7,561.33 L536.7,561.30 L538.7,561.27 L540.7,561.24 L542.7,561.21 L544.7,561.18 L546.7,561.16 L548.7,561.13 L550.7,561.10 L552.7,561.08 L554.7,561.05 L556.7,561.03 L558.7,561.00 L560.7,560.98 L562.7,560.96 L564.7,560.93 L566.7,560.91 L568.7,560.89 L570.7,560.87 L572.7,560.84 L574.7,560.82 L576.7,560.80 L578.7,560.78 L580.7,560.76 L582.7,560.74 L584.7,560.72 L586.7,560.70 L588.7,560.68 L590.7,560.66 L592.7,560.64 L594.7,560.63 L596.7,560.61 L598.7,560.59 L600.7,560.57 L602.7,560.56 L604.7,560.54 L606.7,560.52 L608.7,560.51 L610.7,560.49 L612.7,560.48 L614.7,560.46 L616.7,560.45 L618.7,560.43 L620.7,560.42 L622.7,560.40 L624.7,560.39 L626.7,560.38 L628.7,560.36 L630.7,560.35 L632.7,560.34 L634.7,560.33 L636.7,560.31 L638.7,560.30 L640.7,560.29 L642.7,560.28 L644.7,560.27 L646.7,560.26 L648.7,560.25 L650.7,560.24 L652.7,560.23 L654.7,560.22 L656.7,560.21 L658.7,560.20 L660.7,560.19 L662.7,560.18 L664.7,560.17 L666.7,560.16 L668.7,560.16 L670.7,560.15 L672.7,560.14 L674.7,560.13 L676.7,560.13 L678.7,560.12 L680.7,560.11 L682.7,560.11 L684.7,560.10 L686.7,560.10 L688.7,560.09 L690.7,560.08 L692.7,560.08 L694.7,560.07 L696.7,560.07 L698.7,560.06 L700.7,560.06 L702.7,560.06 L704.7,560.05 L706.7,560.05 L708.7,560.05 L710.7,560.04 L712.7,560.04 L714.7,560.04 L716.7,560.03 L718.7,560.03 L720.7,560.03 L722.7,560.03 L724.7,560.03 L726.7,560.02 L728.7,560.02 L730.7,560.02 L732.7,560.02 L734.7,560.02 L736.7,560.02 L738.7,560.02 L740.7,560.02 L742.7,560.02 L744.7,560.02 L746.7,560.02 L748.7,560.02 L750.7,560.02 L752.7,560.03 L754.7,560.03 L756.7,560.03 L758.7,560.03 L760.7,560.03 L762.7,560.04 L764.7,560.04 L766.7,560.04 L768.7,560.04 L770.7,560.05 L772.7,560.05 L774.7,560.05 L776.7,560.06 L778.7,560.06 L780.7,560.07 L782.7,560.07 L784.7,560.08 L786.7,560.08 L788.7,560.09 L790.7,560.09 L792.7,560.10 L794.7,560.10 L796.7,560.11 L798.7,560.12 L800.7,560.12 L802.7,560.13 L804.7,560.14 L806.7,560.15 L808.7,560.15 L810.7,560.16 L812.7,560.17 L814.7,560.18 L816.7,560.19" fill="none" stroke="#e31a1c" stroke-width="2.7" stroke-linejoin="round"/>
<circle cx="171.7" cy="605.1" r="5.75" fill="#fb9a99" stroke="#e31a1c" stroke-width="1.3"/>
<circle cx="199.0" cy="587.7" r="5.75" fill="#fb9a99" stroke="#e31a1c" stroke-width="1.3"/>
<circle cx="225.9" cy="579.0" r="5.75" fill="#fb9a99" stroke="#e31a1c" stroke-width="1.3"/>
<circle cx="248.2" cy="570.8" r="5.75" fill="#fb9a99" stroke="#e31a1c" stroke-width="1.3"/>
<circle cx="275.7" cy="566.0" r="5.75" fill="#fb9a99" stroke="#e31a1c" stroke-width="1.3"/>
<circle cx="302.1" cy="565.6" r="5.75" fill="#fb9a99" stroke="#e31a1c" stroke-width="1.3"/>
<circle cx="329.2" cy="565.8" r="5.75" fill="#fb9a99" stroke="#e31a1c" stroke-width="1.3"/>
<circle cx="354.1" cy="562.3" r="5.75" fill="#fb9a99" stroke="#e31a1c" stroke-width="1.3"/>
<circle cx="381.1" cy="563.0" r="5.75" fill="#fb9a99" stroke="#e31a1c" stroke-width="1.3"/>
<circle cx="407.8" cy="563.4" r="5.75" fill="#fb9a99" stroke="#e31a1c" stroke-width="1.3"/>
<circle cx="434.9" cy="563.4" r="5.75" fill="#fb9a99" stroke="#e31a1c" stroke-width="1.3"/>
<circle cx="461.6" cy="563.2" r="5.75" fill="#fb9a99" stroke="#e31a1c" stroke-width="1.3"/>
<circle cx="487.9" cy="562.1" r="5.75" fill="#fb9a99" stroke="#e31a1c" stroke-width="1.3"/>
<circle cx="514.1" cy="562.3" r="5.75" fill="#fb9a99" stroke="#e31a1c" stroke-width="1.3"/>
<circle cx="541.4" cy="562.1" r="5.75" fill="#fb9a99" stroke="#e31a1c" stroke-width="1.3"/>
<circle cx="568.5" cy="561.9" r="5.75" fill="#fb9a99" stroke="#e31a1c" stroke-width="1.3"/>
<circle cx="595.8" cy="563.4" r="5.75" fill="#fb9a99" stroke="#e31a1c" stroke-width="1.3"/>
<circle cx="622.5" cy="564.0" r="5.75" fill="#fb9a99" stroke="#e31a1c" stroke-width="1.3"/>
<circle cx="649.3" cy="563.5" r="5.75" fill="#fb9a99" stroke="#e31a1c" stroke-width="1.3"/>
<circle cx="678.0" cy="565.2" r="5.75" fill="#fb9a99" stroke="#e31a1c" stroke-width="1.3"/>
<path d="M300.0,748.72 L302.0,745.83 L304.0,742.98 L306.0,740.18 L308.0,737.42 L310.0,734.69 L312.0,732.01 L314.0,729.36 L316.0,726.75 L318.0,724.18 L320.0,721.65 L322.0,719.16 L324.0,716.70 L326.0,714.27 L328.0,711.88 L330.0,709.53 L332.0,707.21 L334.0,704.92 L336.0,702.67 L338.0,700.45 L340.0,698.26 L342.0,696.10 L344.0,693.98 L346.0,691.88 L348.0,689.82 L350.0,687.78 L352.0,685.78 L354.0,683.80 L356.0,681.86 L358.0,679.94 L360.0,678.05 L362.0,676.19 L364.0,674.35 L366.0,672.54 L368.0,670.76 L370.0,669.01 L372.0,667.28 L374.0,665.57 L376.0,663.89 L378.0,662.24 L380.0,660.61 L382.0,659.00 L384.0,657.41 L386.0,655.85 L388.0,654.32 L390.0,652.80 L392.0,651.31 L394.0,649.84 L396.0,648.39 L398.0,646.96 L400.0,645.56 L402.0,644.17 L404.0,642.81 L406.0,641.46 L408.0,640.14 L410.0,638.83 L412.0,637.54 L414.0,636.28 L416.0,635.03 L418.0,633.80 L420.0,632.59 L422.0,631.39 L424.0,630.22 L426.0,629.06 L428.0,627.92 L430.0,626.79 L432.0,625.69 L434.0,624.60 L436.0,623.52 L438.0,622.46 L440.0,621.42 L442.0,620.39 L444.0,619.38 L446.0,618.38 L448.0,617.40 L450.0,616.44 L452.0,615.48 L454.0,614.55 L456.0,613.62 L458.0,612.71 L460.0,611.81 L462.0,610.93 L464.0,610.06 L466.0,609.21 L468.0,608.36 L470.0,607.53 L472.0,606.71 L474.0,605.91 L476.0,605.11 L478.0,604.33 L480.0,603.56 L482.0,602.81 L484.0,602.06 L486.0,601.32 L488.0,600.60 L490.0,599.89 L492.0,599.19 L494.0,598.49 L496.0,597.81 L498.0,597.14 L500.0,596.48 L502.0,595.83 L504.0,595.19 L506.0,594.56 L508.0,593.94 L510.0,593.33 L512.0,592.73 L514.0,592.14 L516.0,591.56 L518.0,590.98 L520.0,590.42 L522.0,589.86 L524.0,589.31 L526.0,588.77 L528.0,588.24 L530.0,587.72 L532.0,587.21 L534.0,586.70 L536.0,586.20 L538.0,585.71 L540.0,585.23 L542.0,584.75 L544.0,584.29 L546.0,583.82 L548.0,583.37 L550.0,582.93 L552.0,582.49 L554.0,582.05 L556.0,581.63 L558.0,581.21 L560.0,580.80 L562.0,580.39 L564.0,579.99 L566.0,579.60 L568.0,579.21 L570.0,578.83 L572.0,578.46 L574.0,578.09 L576.0,577.73 L578.0,577.37 L580.0,577.02 L582.0,576.67 L584.0,576.33 L586.0,576.00 L588.0,575.67 L590.0,575.34 L592.0,575.03 L594.0,574.71 L596.0,574.40 L598.0,574.10 L600.0,573.80 L602.0,573.51 L604.0,573.22 L606.0,572.93 L608.0,572.66 L610.0,572.38 L612.0,572.11 L614.0,571.84 L616.0,571.58 L618.0,571.32 L620.0,571.07 L622.0,570.82 L624.0,570.58 L626.0,570.33 L628.0,570.10 L630.0,569.86 L632.0,569.64 L634.0,569.41 L636.0,569.19 L638.0,568.97 L640.0,568.75 L642.0,568.54 L644.0,568.34 L646.0,568.13 L648.0,567.93 L650.0,567.73 L652.0,567.54 L654.0,567.35 L656.0,567.16 L658.0,566.98 L660.0,566.80 L662.0,566.62 L664.0,566.44 L666.0,566.27 L668.0,566.10 L670.0,565.93 L672.0,565.77 L674.0,565.61 L676.0,565.45 L678.0,565.30 L680.0,565.14 L682.0,564.99 L684.0,564.85 L686.0,564.70 L688.0,564.56 L690.0,564.42 L692.0,564.28 L694.0,564.14 L696.0,564.01 L698.0,563.88 L700.0,563.75 L702.0,563.63 L704.0,563.50 L706.0,563.38 L708.0,563.26 L710.0,563.14 L712.0,563.03 L714.0,562.91 L716.0,562.80 L718.0,562.69 L720.0,562.58 L722.0,562.48 L724.0,562.37 L726.0,562.27 L728.0,562.17 L730.0,562.07 L732.0,561.97 L734.0,561.88 L736.0,561.79 L738.0,561.69 L740.0,561.60 L742.0,561.52 L744.0,561.43 L746.0,561.34 L748.0,561.26 L750.0,561.18 L752.0,561.10 L754.0,561.02 L756.0,560.94 L758.0,560.86 L760.0,560.79 L762.0,560.71 L764.0,560.64 L766.0,560.57 L768.0,560.50 L770.0,560.43 L772.0,560.36 L774.0,560.30 L776.0,560.23 L778.0,560.17 L780.0,560.10 L782.0,560.04 L784.0,559.98 L786.0,559.92 L788.0,559.87 L790.0,559.81 L792.0,559.75 L794.0,559.70 L796.0,559.64 L798.0,559.59 L800.0,559.54 L802.0,559.49 L804.0,559.44 L806.0,559.39 L808.0,559.34 L810.0,559.29 L812.0,559.25 L814.0,559.20 L816.0,559.16" fill="none" stroke="#ff7f00" stroke-width="2.7" stroke-linejoin="round"/>
<circle cx="407.4" cy="674.3" r="5.75" fill="#fdbf6f" stroke="#ff7f00" stroke-width="1.3"/>
<circle cx="433.0" cy="640.7" r="5.75" fill="#fdbf6f" stroke="#ff7f00" stroke-width="1.3"/>
<circle cx="458.7" cy="604.2" r="5.75" fill="#fdbf6f" stroke="#ff7f00" stroke-width="1.3"/>
<circle cx="486.0" cy="587.0" r="5.75" fill="#fdbf6f" stroke="#ff7f00" stroke-width="1.3"/>
<circle cx="513.2" cy="577.3" r="5.75" fill="#fdbf6f" stroke="#ff7f00" stroke-width="1.3"/>
<circle cx="539.9" cy="576.2" r="5.75" fill="#fdbf6f" stroke="#ff7f00" stroke-width="1.3"/>
<circle cx="567.4" cy="573.8" r="5.75" fill="#fdbf6f" stroke="#ff7f00" stroke-width="1.3"/>
<circle cx="594.5" cy="571.3" r="5.75" fill="#fdbf6f" stroke="#ff7f00" stroke-width="1.3"/>
<circle cx="620.8" cy="569.9" r="5.75" fill="#fdbf6f" stroke="#ff7f00" stroke-width="1.3"/>
<circle cx="648.3" cy="567.0" r="5.75" fill="#fdbf6f" stroke="#ff7f00" stroke-width="1.3"/>
<circle cx="674.3" cy="569.8" r="5.75" fill="#fdbf6f" stroke="#ff7f00" stroke-width="1.3"/>
<circle cx="700.6" cy="569.8" r="5.75" fill="#fdbf6f" stroke="#ff7f00" stroke-width="1.3"/>
<circle cx="726.0" cy="568.0" r="5.75" fill="#fdbf6f" stroke="#ff7f00" stroke-width="1.3"/>
<circle cx="752.8" cy="564.9" r="5.75" fill="#fdbf6f" stroke="#ff7f00" stroke-width="1.3"/>
<circle cx="777.1" cy="567.0" r="5.75" fill="#fdbf6f" stroke="#ff7f00" stroke-width="1.3"/>
</g>
<path d="M594.5,618.3 L594.5,579" stroke="#4d4d4d" stroke-width="2.9" fill="none" stroke-linecap="round"/>
<path d="M589.3,587.6 L594.5,578.0 L599.7,587.6" stroke="#4d4d4d" stroke-width="2.6" fill="none" stroke-linecap="round" stroke-linejoin="round"/>
<rect x="116.7" y="533.65" width="699.15" height="200.35000000000002" fill="none" stroke="#262626" stroke-width="1.3"/>
<text x="93.58" y="540.90" font-size="20" fill="#1a1a1a" stroke="#1a1a1a" stroke-width="0.4">0</text>
<path d="M116.7,583.74 L129.9,583.74" stroke="#262626" stroke-width="1.3"/>
<text x="81.90" y="590.99" font-size="20" fill="#1a1a1a" stroke="#1a1a1a" stroke-width="0.4">−</text>
<path d="M101.03,590.99 L99.27,590.99 L99.27,579.79 Q98.64,580.39 97.61,581.00 Q96.58,581.60 95.76,581.91 L95.76,580.21 Q97.23,579.51 98.34,578.53 Q99.44,577.54 99.90,576.61 L101.03,576.61 Z" fill="#1a1a1a" stroke="#1a1a1a" stroke-width="0.24"/>
<path d="M116.7,633.83 L129.9,633.83" stroke="#262626" stroke-width="1.3"/>
<text x="81.90" y="641.08" font-size="20" fill="#1a1a1a" stroke="#1a1a1a" stroke-width="0.4">−</text>
<text x="93.58" y="641.08" font-size="20" fill="#1a1a1a" stroke="#1a1a1a" stroke-width="0.4">2</text>
<path d="M116.7,683.91 L129.9,683.91" stroke="#262626" stroke-width="1.3"/>
<text x="81.90" y="691.16" font-size="20" fill="#1a1a1a" stroke="#1a1a1a" stroke-width="0.4">−</text>
<text x="93.58" y="691.16" font-size="20" fill="#1a1a1a" stroke="#1a1a1a" stroke-width="0.4">3</text>
<text x="81.90" y="741.25" font-size="20" fill="#1a1a1a" stroke="#1a1a1a" stroke-width="0.4">−</text>
<text x="93.58" y="741.25" font-size="20" fill="#1a1a1a" stroke="#1a1a1a" stroke-width="0.4">4</text>
<path d="M164.21,734.0 L164.21,725.9" stroke="#262626" stroke-width="1.3"/>
<path d="M197.75,734.0 L197.75,725.9" stroke="#262626" stroke-width="1.3"/>
<path d="M223.77,734.0 L223.77,725.9" stroke="#262626" stroke-width="1.3"/>
<path d="M245.03,734.0 L245.03,725.9" stroke="#262626" stroke-width="1.3"/>
<path d="M263.01,734.0 L263.01,725.9" stroke="#262626" stroke-width="1.3"/>
<path d="M278.58,734.0 L278.58,725.9" stroke="#262626" stroke-width="1.3"/>
<path d="M292.31,734.0 L292.31,725.9" stroke="#262626" stroke-width="1.3"/>
<path d="M304.60,734.0 L304.60,720.9" stroke="#262626" stroke-width="1.3"/>
<path d="M385.43,734.0 L385.43,725.9" stroke="#262626" stroke-width="1.3"/>
<path d="M432.71,734.0 L432.71,725.9" stroke="#262626" stroke-width="1.3"/>
<path d="M466.25,734.0 L466.25,725.9" stroke="#262626" stroke-width="1.3"/>
<path d="M492.27,734.0 L492.27,725.9" stroke="#262626" stroke-width="1.3"/>
<path d="M513.53,734.0 L513.53,725.9" stroke="#262626" stroke-width="1.3"/>
<path d="M531.51,734.0 L531.51,725.9" stroke="#262626" stroke-width="1.3"/>
<path d="M547.08,734.0 L547.08,725.9" stroke="#262626" stroke-width="1.3"/>
<path d="M560.81,734.0 L560.81,725.9" stroke="#262626" stroke-width="1.3"/>
<path d="M573.10,734.0 L573.10,720.9" stroke="#262626" stroke-width="1.3"/>
<path d="M653.93,734.0 L653.93,725.9" stroke="#262626" stroke-width="1.3"/>
<path d="M701.21,734.0 L701.21,725.9" stroke="#262626" stroke-width="1.3"/>
<path d="M734.75,734.0 L734.75,725.9" stroke="#262626" stroke-width="1.3"/>
<path d="M760.77,734.0 L760.77,725.9" stroke="#262626" stroke-width="1.3"/>
<path d="M782.03,734.0 L782.03,725.9" stroke="#262626" stroke-width="1.3"/>
<path d="M800.01,734.0 L800.01,725.9" stroke="#262626" stroke-width="1.3"/>
<path d="M287.55,766.60 L285.79,766.60 L285.79,755.40 Q285.16,756.00 284.13,756.61 Q283.10,757.22 282.28,757.52 L282.28,755.82 Q283.75,755.13 284.85,754.14 Q285.96,753.15 286.42,752.22 L287.55,752.22 Z" fill="#1a1a1a" stroke="#1a1a1a" stroke-width="0.24"/>
<text x="291.22" y="766.60" font-size="20" fill="#1a1a1a" stroke="#1a1a1a" stroke-width="0.4">0</text>
<text x="302.50" y="753.60" font-size="14" fill="#1a1a1a" stroke="#1a1a1a" stroke-width="0.4">−</text>
<path d="M315.89,753.60 L314.66,753.60 L314.66,745.76 Q314.21,746.18 313.49,746.61 Q312.77,747.03 312.20,747.24 L312.20,746.05 Q313.23,745.57 314.00,744.88 Q314.78,744.19 315.10,743.54 L315.89,743.54 Z" fill="#1a1a1a" stroke="#1a1a1a" stroke-width="0.24"/>
<text x="318.46" y="753.60" font-size="14" fill="#1a1a1a" stroke="#1a1a1a" stroke-width="0.4">0</text>
<path d="M559.94,766.60 L558.18,766.60 L558.18,755.40 Q557.55,756.00 556.52,756.61 Q555.49,757.22 554.67,757.52 L554.67,755.82 Q556.14,755.13 557.25,754.14 Q558.35,753.15 558.81,752.22 L559.94,752.22 Z" fill="#1a1a1a" stroke="#1a1a1a" stroke-width="0.24"/>
<text x="563.61" y="766.60" font-size="20" fill="#1a1a1a" stroke="#1a1a1a" stroke-width="0.4">0</text>
<text x="574.89" y="753.60" font-size="14" fill="#1a1a1a" stroke="#1a1a1a" stroke-width="0.4">−</text>
<text x="583.07" y="753.60" font-size="14" fill="#1a1a1a" stroke="#1a1a1a" stroke-width="0.4">9</text>
<text x="466.28" y="794.80" font-size="22" text-anchor="middle" fill="#1a1a1a" stroke="#1a1a1a" stroke-width="0.4">Input drive power (W)</text>
<text transform="translate(64.0,633.9) rotate(-90)" font-size="22" text-anchor="middle" fill="#1a1a1a" stroke="#1a1a1a" stroke-width="0.4">Transmission (dB)</text>
</svg>
</body></html>
